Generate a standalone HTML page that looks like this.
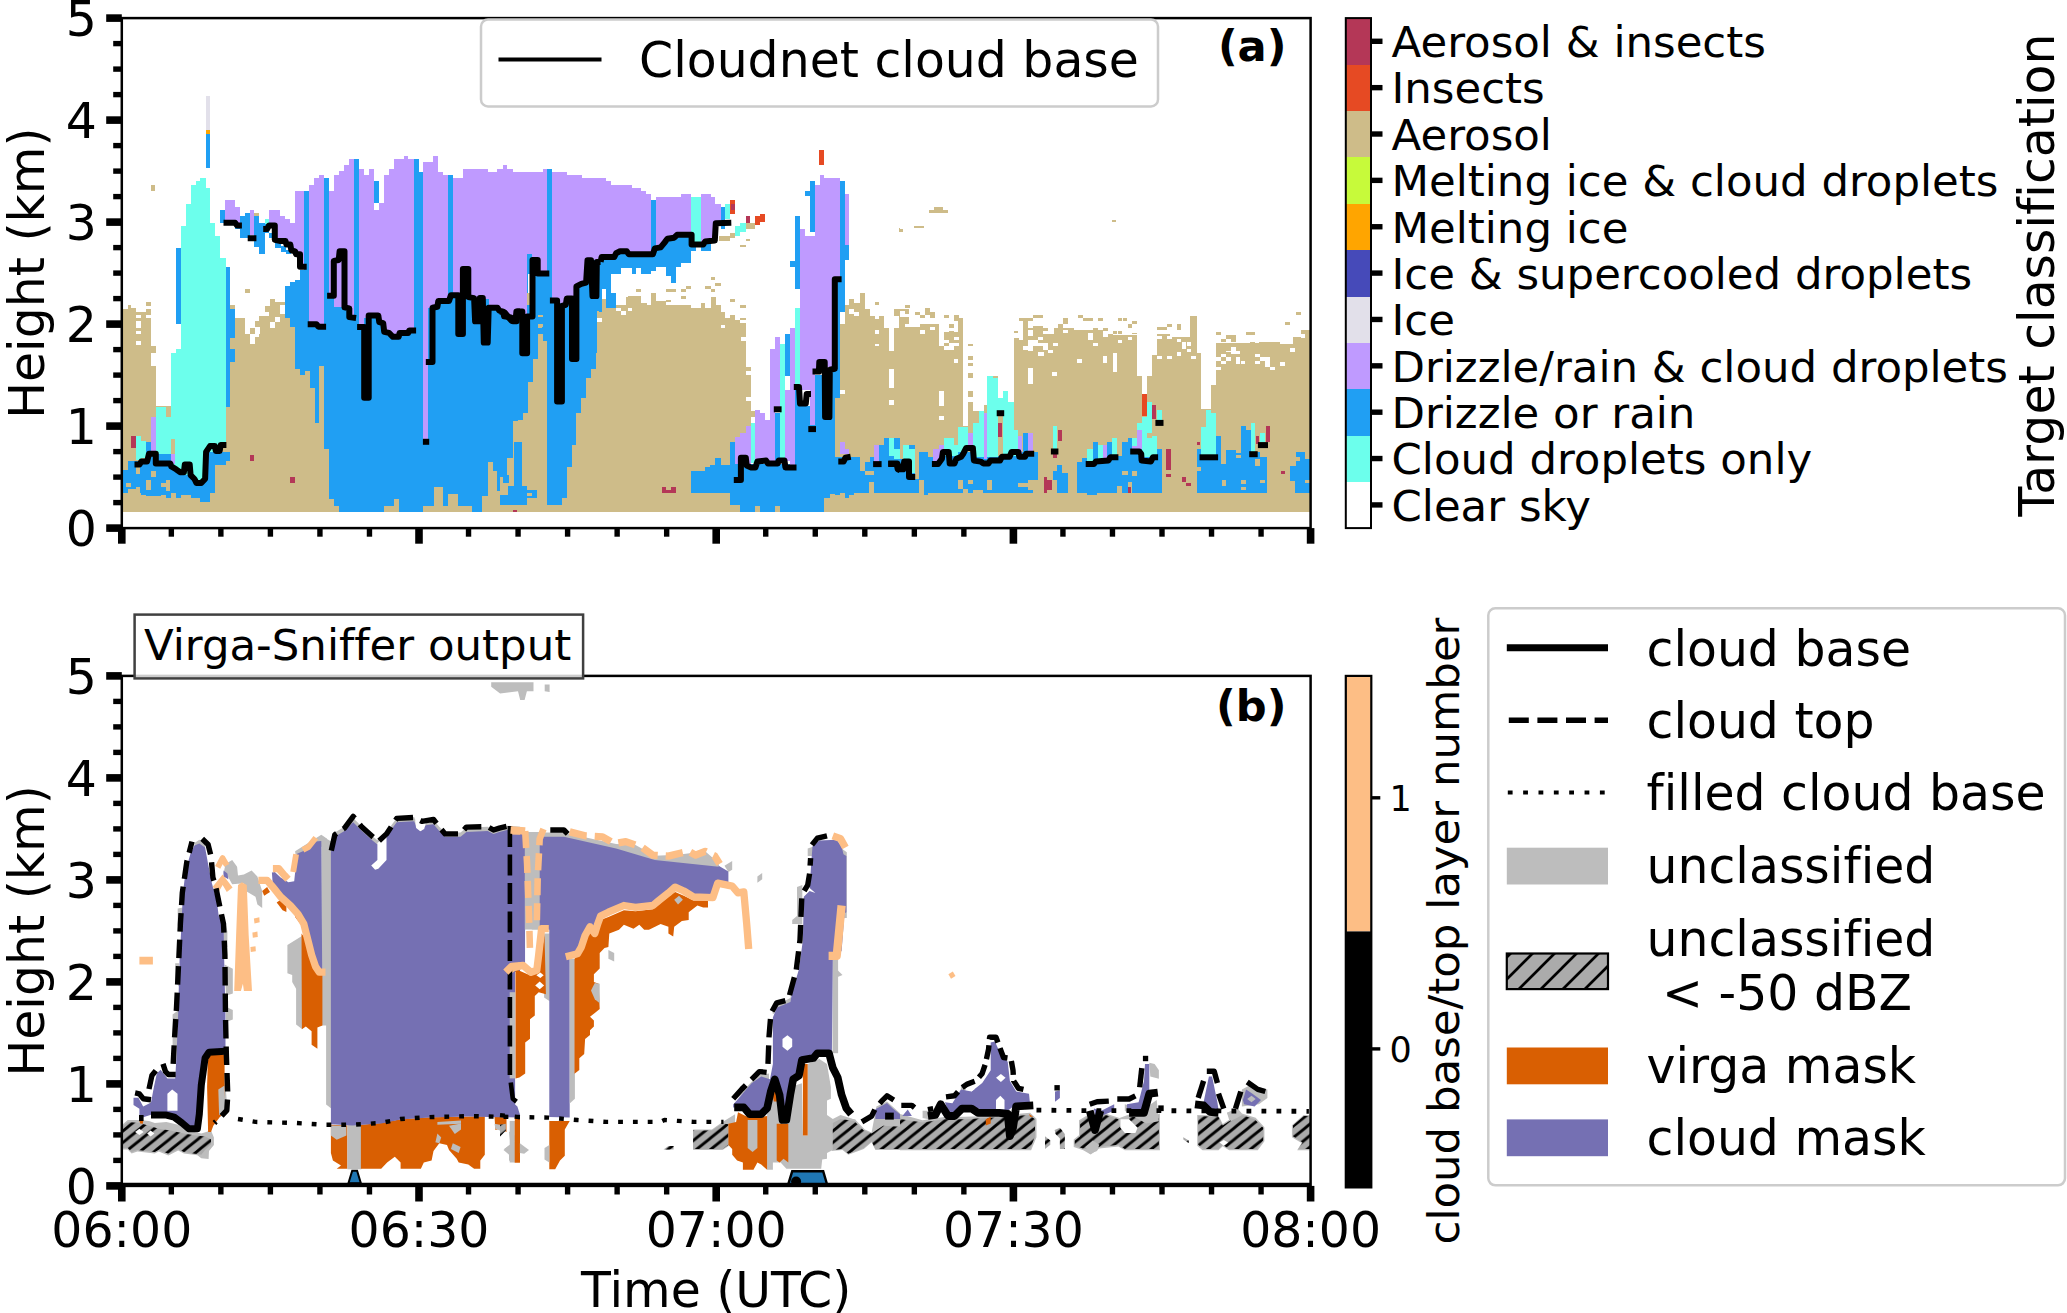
<!DOCTYPE html>
<html><head><meta charset="utf-8"><title>Virga-Sniffer</title>
<style>html,body{margin:0;padding:0;background:#fff}svg text{fill:#000;font-variant-ligatures:none}</style></head>
<body>
<svg width="2067" height="1313" viewBox="0 0 2067 1313" style="display:block">
<rect width="2067" height="1313" fill="#fff"/>
<defs>
<clipPath id="clipA"><rect x="121.8" y="18.100000000000023" width="1188.8" height="510.0"/></clipPath>
<clipPath id="clipB"><rect x="121.8" y="675.9000000000001" width="1188.8" height="510.0"/></clipPath>
<pattern id="hatch" patternUnits="userSpaceOnUse" width="22" height="22"><path d="M-2,24 L24,-2 M-13,13 L13,-13 M9,35 L35,9" stroke="#000" stroke-width="2.7"/></pattern>
<pattern id="hatch2" patternUnits="userSpaceOnUse" width="14.2" height="11.5"><path d="M-1.42,12.65 L15.62,-1.15 M-7.10,5.75 L7.10,-5.75 M7.10,17.25 L21.30,5.75" stroke="#000" stroke-width="2.8"/></pattern>
</defs>
<g clip-path="url(#clipA)" shape-rendering="crispEdges">
<polygon points="121.5,308.7 127.7,308.7 127.7,304.8 130.6,304.8 130.6,307.7 136.4,307.7 136.4,311.6 146.1,311.6 146.1,308.7 151,308.7 151,365.8 155.8,365.8 155.8,511.9 121.5,511.9" fill="#CEBC89" />
<rect x="146.1" y="301.9" width="4.9" height="3.9" fill="#CEBC89" />
<rect x="151" y="346.4" width="4.8" height="6.8" fill="#CEBC89" />
<rect x="230.3" y="304.8" width="4.8" height="3.9" fill="#CEBC89" />
<rect x="244.8" y="289.4" width="4.9" height="3.4" fill="#CEBC89" />
<rect x="270" y="299" width="4.8" height="2.9" fill="#CEBC89" />
<rect x="136.4" y="314.5" width="4.5" height="3.9" fill="#ffffff" />
<rect x="136.4" y="321.3" width="4.5" height="6.8" fill="#ffffff" />
<rect x="136.4" y="331" width="4.5" height="2.9" fill="#ffffff" />
<rect x="136.4" y="340.6" width="4.5" height="3.9" fill="#ffffff" />
<rect x="146.1" y="314.5" width="4.9" height="3.9" fill="#ffffff" />
<polygon points="155.8,405.5 225.5,405.5 225.5,407.4 230.3,407.4 230.3,337.7 235.1,337.7 235.1,318.4 244.8,318.4 244.8,333.9 249.7,333.9 249.7,343.5 254.5,343.5 254.5,336.8 259.3,336.8 259.3,316.4 265.1,316.4 265.1,305.8 270,305.8 270,301.9 284.5,301.9 284.5,318.4 290.3,318.4 290.3,327.1 295.1,327.1 295.1,368.7 304.8,368.7 304.8,368.7 309.6,368.7 309.6,388 314.5,388 314.5,422.9 319.3,422.9 319.3,365.8 324.2,365.8 324.2,449 329,449 329,499.3 333.8,499.3 333.8,506.1 339.6,506.1 339.6,511.9 155.8,511.9" fill="#CEBC89" />
<rect x="244.8" y="321.3" width="4.9" height="4.8" fill="#ffffff" />
<rect x="270" y="322.2" width="4.8" height="5.9" fill="#ffffff" />
<rect x="274.8" y="317.4" width="4.9" height="4.8" fill="#ffffff" />
<rect x="279.7" y="304.8" width="4.8" height="8.7" fill="#ffffff" />
<rect x="255.5" y="327.1" width="4.8" height="6.8" fill="#ffffff" />
<rect x="264.2" y="311.6" width="4.8" height="4.8" fill="#ffffff" />
<rect x="254.5" y="321.3" width="4.8" height="5.8" fill="#CEBC89" />
<rect x="249.7" y="328.1" width="4.8" height="5.8" fill="#CEBC89" />
<rect x="333.8" y="405.5" width="186.2" height="106.4" fill="#CEBC89" />
<polygon points="122.9,470.3 127.7,470.3 127.7,460.6 146.1,460.6 146.1,442.2 151,442.2 151,451.9 225.5,451.9 225.5,451.9 230.3,451.9 230.3,460.6 225.5,460.6 225.5,464.5 214.8,464.5 214.8,492.5 210,492.5 210,502.2 200.3,502.2 200.3,498.4 190.6,498.4 190.6,495.4 181,495.4 181,498.4 176.1,498.4 176.1,492.5 171.3,492.5 171.3,498.4 166.4,498.4 166.4,495.4 160.6,495.4 160.6,496.4 146.1,496.4 146.1,494.5 141.3,494.5 141.3,492.5 136.4,492.5 136.4,488.7 127.7,488.7 127.7,492.5 122.9,492.5" fill="#209FF3" />
<rect x="125.8" y="482.9" width="4.8" height="3.8" fill="#CEBC89" />
<rect x="136.4" y="467.4" width="3.9" height="6.8" fill="#CEBC89" />
<rect x="151" y="471.3" width="4.8" height="5.8" fill="#CEBC89" />
<rect x="146.1" y="480" width="4.9" height="9.6" fill="#CEBC89" />
<rect x="160.6" y="482.9" width="4.9" height="3.8" fill="#CEBC89" />
<rect x="165.5" y="480" width="4.8" height="10.6" fill="#CEBC89" />
<rect x="136.4" y="486.7" width="3.9" height="5.8" fill="#CEBC89" />
<rect x="175.7" y="248" width="5.3" height="75.8" fill="#209FF3" />
<rect x="205.7" y="133.8" width="4.3" height="34.6" fill="#209FF3" />
<rect x="225.5" y="267.1" width="4.8" height="140.3" fill="#209FF3" />
<rect x="230.3" y="308.7" width="4.8" height="29" fill="#209FF3" />
<rect x="230.3" y="349.3" width="4.8" height="12.6" fill="#209FF3" />
<rect x="205.7" y="95.5" width="4.3" height="34.4" fill="#E2E0EA" />
<rect x="205.7" y="129.9" width="4.3" height="3.9" fill="#ffa500" />
<rect x="151" y="184.5" width="4.4" height="6.4" fill="#CEBC89" />
<polygon points="181,226.1 185.8,226.1 185.8,203.9 191,203.9 191,184.5 195.5,184.5 195.5,180.6 200.3,180.6 200.3,178.3 205.7,178.3 205.7,188 210,188 210,223.2 214.8,223.2 214.8,236.4 220,236.4 220,258 225.5,258 225.5,350.9 181,350.9" fill="#6CFFEC" />
<polygon points="155.8,407.4 166.4,407.4 166.4,417.1 171.3,417.1 171.3,353.2 176.1,353.2 176.1,349.3 181,349.3 181,289.4 225.5,289.4 225.5,448 214.8,448 214.8,451.9 206.1,451.9 206.1,479 203.2,479 203.2,482.9 193.5,482.9 193.5,475.1 183.9,475.1 183.9,471.3 176.1,471.3 176.1,465.5 171.3,465.5 171.3,453.8 155.8,453.8" fill="#6CFFEC" />
<rect x="136.4" y="435.5" width="4.9" height="24.1" fill="#6CFFEC" />
<rect x="141.3" y="441.3" width="4.8" height="16.4" fill="#6CFFEC" />
<rect x="131.2" y="435.5" width="4.7" height="12.5" fill="#B43757" />
<rect x="250" y="454.8" width="3.9" height="5.8" fill="#B43757" />
<rect x="290.3" y="477.1" width="4.4" height="5.8" fill="#B43757" />
<rect x="512.8" y="509.6" width="4.9" height="2.3" fill="#B43757" />
<rect x="151" y="417.1" width="4.8" height="33.8" fill="#BF9AFF" />
<rect x="171.3" y="453.8" width="3.9" height="9.7" fill="#BF9AFF" />
<rect x="171.3" y="439.3" width="3.9" height="14.5" fill="#CEBC89" />
<rect x="220" y="209.7" width="5.1" height="13.5" fill="#209FF3" />
<rect x="235.1" y="224.2" width="4.9" height="4.8" fill="#209FF3" />
<rect x="240" y="216.4" width="4.8" height="21.3" fill="#209FF3" />
<rect x="244.8" y="213.1" width="5.2" height="24.6" fill="#209FF3" />
<rect x="254.1" y="216" width="5.2" height="31.4" fill="#209FF3" />
<rect x="259.3" y="223.2" width="5.5" height="31" fill="#209FF3" />
<rect x="264.8" y="224.2" width="4.6" height="8.7" fill="#209FF3" />
<rect x="269.4" y="232.9" width="5.4" height="4.8" fill="#209FF3" />
<rect x="274.8" y="242.6" width="5.8" height="5.8" fill="#209FF3" />
<rect x="280.6" y="246.4" width="5.8" height="5.8" fill="#209FF3" />
<rect x="286.4" y="250.3" width="4.9" height="3.9" fill="#209FF3" />
<rect x="225.1" y="200.4" width="10" height="22.4" fill="#BF9AFF" />
<rect x="235.1" y="206.8" width="4.9" height="17.4" fill="#BF9AFF" />
<rect x="250" y="209.7" width="4.1" height="25.1" fill="#BF9AFF" />
<rect x="254.1" y="213.1" width="5.2" height="2.9" fill="#CEBC89" />
<rect x="264.8" y="219.3" width="4.6" height="4.9" fill="#6CFFEC" />
<polygon points="284.5,286.1 289.7,286.1 289.7,282.2 294.7,282.2 294.7,280.3 300,280.3 300,269.6 304.2,269.6 304.2,191.3 309.1,191.3 309.1,269.6 324.2,269.6 324.2,178.3 329,178.3 329,269.6 354.2,269.6 354.2,159 359.2,159 359.2,269.6 373.5,269.6 373.5,181 378.9,181 378.9,269.6 413.6,269.6 413.6,159 418.6,159 418.6,171.9 422.9,171.9 422.9,269.6 448,269.6 448,174.8 452.8,174.8 452.8,269.6 520,269.6 520,421 512.8,421 512.8,457.7 507,457.7 507,490.6 497.4,490.6 497.4,471.3 492.5,471.3 492.5,461.6 487.7,461.6 487.7,496.4 481.9,496.4 481.9,511.9 472.2,511.9 472.2,506.1 457.7,506.1 457.7,493.5 448,493.5 448,506.1 443.2,506.1 443.2,486.8 433.5,486.8 433.5,506.1 422.9,506.1 422.9,511.9 398.7,511.9 398.7,499.4 393.8,499.4 393.8,506.1 384.2,506.1 384.2,511.9 338.7,511.9 338.7,506.1 333.8,506.1 333.8,499.4 329,499.4 329,449 324.2,449 324.2,365.8 319.3,365.8 319.3,422.9 314.5,422.9 314.5,388.1 309.6,388.1 309.6,368.7 304.8,368.7 304.8,374.5 300,374.5 300,368.7 295.1,368.7 295.1,327.1 290.3,327.1 290.3,318.4 284.5,318.4" fill="#209FF3" />
<rect x="319.3" y="270" width="4.9" height="95.8" fill="#209FF3" />
<rect x="304.8" y="366.8" width="4.8" height="3.8" fill="#209FF3" />
<polygon points="269.4,210 279.7,210 279.7,216.4 284.5,216.4 284.5,219.3 289.7,219.3 289.7,223.2 294.7,223.2 294.7,191.3 304.2,191.3 304.2,266.7 300,266.7 300,254.2 296.1,254.2 296.1,251.3 291.3,251.3 291.3,244.5 286.4,244.5 286.4,240.6 274.8,240.6 274.8,227.1 269.4,227.1" fill="#BF9AFF" />
<polygon points="309.1,184.5 314.1,184.5 314.1,178.3 319.3,178.3 319.3,174.8 324.2,174.8 324.2,324.2 309.1,324.2" fill="#BF9AFF" />
<polygon points="329,191.3 334.2,191.3 334.2,174.8 339.1,174.8 339.1,171 344.1,171 344.1,165.1 349.3,165.1 349.3,159 354.2,159 354.2,318 349.3,318 349.3,308.4 344.5,308.4 344.5,307.4 333.8,307.4 333.8,292.9 329,292.9" fill="#BF9AFF" />
<rect x="373.5" y="203.3" width="5.4" height="6.7" fill="#ffffff" />
<polygon points="359.2,168.6 364.2,168.6 364.2,174.8 369.1,174.8 369.1,168.6 373.5,168.6 373.5,210 378.9,210 378.9,203.3 383.8,203.3 383.8,174.8 389,174.8 389,168.6 393.8,168.6 393.8,159 403.9,159 403.9,155.5 408.3,155.5 408.3,159 413.6,159 413.6,330.6 409.3,330.6 409.3,333.1 399.6,333.1 399.6,337.4 392.9,337.4 392.9,333.5 384.2,333.5 384.2,322.9 379.3,322.9 379.3,318 364.2,318 364.2,328.1 359.2,328.1" fill="#BF9AFF" />
<polygon points="422.9,162.2 432.9,162.2 432.9,155.5 437.8,155.5 437.8,171.9 442.8,171.9 442.8,174.8 448,174.8 448,301 438.3,301 438.3,308.4 428.1,308.4 428.1,440.9 422.9,440.9" fill="#BF9AFF" />
<polygon points="452.8,178.3 462.9,178.3 462.9,168.6 487.7,168.6 487.7,171.9 497.4,171.9 497.4,168.6 502.6,168.6 502.6,165.1 507,165.1 507,168.6 512.8,168.6 512.8,171.9 520,171.9 520,312.2 517.7,312.2 517.7,321.9 512.8,321.9 512.8,317.1 504.1,317.1 504.1,311.3 499.3,311.3 499.3,308.4 488.7,308.4 488.7,298.7 474.1,298.7 474.1,295.8 452.8,295.8" fill="#BF9AFF" />
<polygon points="519.9,171.9 542.6,171.9 542.6,168.6 551.9,168.6 551.9,171.9 566.8,171.9 566.8,174.8 582.2,174.8 582.2,178.3 602.6,178.3 602.6,511.9 519.9,511.9" fill="#209FF3" />
<polygon points="513.5,426.7 518.4,426.7 518.4,420 523.2,420 523.2,413.2 528.1,413.2 528.1,382.2 532.9,382.2 532.9,359 537.7,359 537.7,333.9 542.6,333.9 542.6,340.6 547.4,340.6 547.4,511.9 513.5,511.9" fill="#CEBC89" />
<rect x="537.7" y="314.5" width="4.9" height="2.9" fill="#CEBC89" />
<rect x="537.7" y="324.2" width="4.9" height="2.9" fill="#CEBC89" />
<rect x="500" y="477.1" width="13.5" height="34.8" fill="#CEBC89" />
<rect x="547.4" y="505.1" width="9.7" height="6.8" fill="#CEBC89" />
<rect x="513.5" y="442.2" width="8.8" height="43.6" fill="#209FF3" />
<rect x="507.7" y="485.8" width="19.4" height="19.3" fill="#209FF3" />
<rect x="522.3" y="489.6" width="14.5" height="8.8" fill="#209FF3" />
<rect x="500" y="494.5" width="7.7" height="10.6" fill="#209FF3" />
<rect x="502.9" y="475.1" width="5.8" height="7.8" fill="#209FF3" />
<rect x="507.7" y="457.7" width="4.9" height="13.6" fill="#CEBC89" />
<rect x="527.1" y="492.5" width="4.8" height="3.9" fill="#CEBC89" />
<polygon points="557.1,505.1 561.9,505.1 561.9,498.4 566.8,498.4 566.8,467.4 571.6,467.4 571.6,445.1 576.4,445.1 576.4,413.2 581.3,413.2 581.3,397.7 586.1,397.7 586.1,378.4 591,378.4 591,368.7 595.8,368.7 595.8,353.2 596.8,353.2 596.8,311.2 601.6,311.2 601.6,298.6 606.4,298.6 606.4,308.3 616.1,308.3 616.1,305.4 625.8,305.4 625.8,296.7 641.3,296.7 641.3,302.5 650.9,302.5 650.9,292.8 655.8,292.8 655.8,300.6 666.4,300.6 666.4,299.6 671.3,299.6 671.3,305.4 690.6,305.4 690.6,308.3 701.3,308.3 701.3,302.5 705.1,302.5 705.1,308.3 710.9,308.3 710.9,296.7 715.8,296.7 715.8,305.4 720.6,305.4 720.6,312.2 725.4,312.2 725.4,318 730.3,318 730.3,315.1 735.1,315.1 735.1,319.9 740,319.9 740,318 745.8,318 745.8,366.8 750.6,366.8 750.6,432.6 745.8,432.6 745.8,437.4 740,437.4 740,442.2 735.1,442.2 735.1,511.9 730.3,511.9 730.3,511.9 690.6,511.9 690.6,511.9 557.1,511.9" fill="#CEBC89" />
<rect x="740" y="432.6" width="10.6" height="5.8" fill="#CEBC89" />
<rect x="735.1" y="437.4" width="10.7" height="5.8" fill="#CEBC89" />
<rect x="730.3" y="442.2" width="9.7" height="21.3" fill="#CEBC89" />
<rect x="750.6" y="411.3" width="4.8" height="5.8" fill="#CEBC89" />
<rect x="636.4" y="289" width="4.9" height="2.9" fill="#CEBC89" />
<rect x="666.4" y="289" width="9.7" height="2.9" fill="#CEBC89" />
<rect x="680.9" y="289" width="4.9" height="2.9" fill="#CEBC89" />
<rect x="685.8" y="286.1" width="4.8" height="2.9" fill="#CEBC89" />
<rect x="705.1" y="286.1" width="5.4" height="2.9" fill="#CEBC89" />
<rect x="710.5" y="277" width="4.9" height="2.9" fill="#CEBC89" />
<rect x="715.4" y="282.8" width="5.2" height="2.9" fill="#CEBC89" />
<rect x="710.5" y="289" width="4.9" height="2.9" fill="#CEBC89" />
<rect x="680.9" y="296.4" width="4.9" height="2.9" fill="#CEBC89" />
<rect x="730.3" y="299.3" width="4.8" height="2.3" fill="#CEBC89" />
<rect x="740" y="305.4" width="5.8" height="3" fill="#CEBC89" />
<rect x="627.7" y="296.4" width="13.6" height="2.3" fill="#CEBC89" />
<rect x="620.9" y="311.3" width="4.9" height="3.8" fill="#ffffff" />
<rect x="596.8" y="318" width="4.8" height="3.9" fill="#ffffff" />
<rect x="720.6" y="324.8" width="4.8" height="2.9" fill="#ffffff" />
<rect x="647.1" y="301.6" width="3.8" height="2.9" fill="#ffffff" />
<rect x="666.4" y="301.6" width="4.9" height="2.9" fill="#ffffff" />
<rect x="740" y="320" width="5.8" height="2.9" fill="#ffffff" />
<rect x="606.4" y="304.5" width="4.9" height="3.9" fill="#ffffff" />
<rect x="616.1" y="308.4" width="4.8" height="2.9" fill="#ffffff" />
<rect x="627.7" y="308.4" width="3.9" height="2.9" fill="#ffffff" />
<rect x="745.8" y="370.6" width="4.8" height="3.9" fill="#ffffff" />
<rect x="745.8" y="396.8" width="4.8" height="3.8" fill="#ffffff" />
<rect x="740.9" y="336.8" width="4.9" height="3.8" fill="#ffffff" />
<rect x="730.3" y="482.9" width="105.5" height="29" fill="#CEBC89" />
<polygon points="829.9,438.4 834.8,438.4 834.8,397.7 839.6,397.7 839.6,324.2 844.8,324.2 844.8,305.8 849.3,305.8 849.3,299 854.1,299 854.1,302.9 859.9,302.9 859.9,292.8 864.8,292.8 864.8,308.7 869.6,308.7 869.6,315.5 874.5,315.5 874.5,319.3 879.3,319.3 879.3,315.5 884.1,315.5 884.1,322.2 889,322.2 889,326.1 893.8,326.1 893.8,308.7 900,308.7 900,511.9 829.9,511.9" fill="#CEBC89" />
<rect x="874.5" y="330" width="4.8" height="3.9" fill="#ffffff" />
<rect x="874.5" y="343.5" width="4.8" height="2.9" fill="#ffffff" />
<rect x="889" y="368.7" width="4.8" height="3.9" fill="#ffffff" />
<rect x="889" y="375.5" width="4.8" height="12.5" fill="#ffffff" />
<rect x="889" y="400.6" width="4.8" height="3.9" fill="#ffffff" />
<rect x="839.6" y="390" width="5.2" height="3.9" fill="#ffffff" />
<rect x="884.1" y="322.2" width="4.9" height="5.9" fill="#ffffff" />
<rect x="893.8" y="316.4" width="4.8" height="11.7" fill="#ffffff" />
<rect x="849.3" y="308.7" width="4.8" height="4.8" fill="#ffffff" />
<rect x="854.1" y="311.6" width="4.9" height="3.9" fill="#ffffff" />
<rect x="874.5" y="301.9" width="4.8" height="2.9" fill="#CEBC89" />
<rect x="844.8" y="304.8" width="4.5" height="2.9" fill="#CEBC89" />
<rect x="854.1" y="304.8" width="4.9" height="2.9" fill="#CEBC89" />
<rect x="898.6" y="228.4" width="1.4" height="2.9" fill="#CEBC89" />
<polygon points="598.7,260.9 601.6,260.9 601.6,256.1 616.1,256.1 616.1,251.3 650.9,251.3 650.9,200.4 655.8,200.4 655.8,247.4 664.5,247.4 664.5,241.6 667.4,241.6 667.4,237.7 676.1,237.7 676.1,233.8 690.6,233.8 690.6,242.6 701.3,242.6 701.3,243.5 710.5,243.5 710.5,240.6 715.4,240.6 715.4,224.2 720.6,224.2 720.6,206.8 725.4,206.8 725.4,229 720.6,229 720.6,224.2 715.4,224.2 715.4,241 710.5,241 710.5,251.3 701.3,251.3 701.3,246.4 695.5,246.4 695.5,251.3 690.6,251.3 690.6,262.9 680.9,262.9 680.9,266.7 676.1,266.7 676.1,283.2 671.3,283.2 671.3,276.4 666.4,276.4 666.4,266.7 655.8,266.7 655.8,270.6 650.9,270.6 650.9,273.5 641.3,273.5 641.3,267.7 636.4,267.7 636.4,273.5 631.6,273.5 631.6,267.7 620.9,267.7 620.9,273.5 611.3,273.5 611.3,308.4 606.4,308.4 606.4,289 601.6,289 601.6,311.6 598.7,311.6" fill="#209FF3" />
<rect x="611.3" y="292.9" width="4.8" height="15.5" fill="#209FF3" />
<rect x="547.4" y="168.6" width="4.5" height="124.3" fill="#209FF3" />
<rect x="528.1" y="273.5" width="2.9" height="19.4" fill="#ffffff" />
<rect x="601.6" y="289" width="4.8" height="9.7" fill="#ffffff" />
<rect x="527.1" y="292.9" width="9.7" height="12.5" fill="#CEBC89" />
<rect x="531.9" y="292.9" width="4.9" height="12.5" fill="#209FF3" />
<rect x="537.7" y="314.5" width="4.5" height="2.9" fill="#CEBC89" />
<rect x="537.7" y="324.2" width="4.5" height="3.5" fill="#CEBC89" />
<polygon points="519.9,171.9 542.6,171.9 542.6,168.6 547.4,168.6 547.4,270.6 539.7,270.6 539.7,260 531.9,260 531.9,254.2 527.1,254.2 527.1,315.1 523.2,315.1 523.2,311.3 519.9,311.3" fill="#BF9AFF" />
<polygon points="551.9,171.9 566.8,171.9 566.8,174.8 582.2,174.8 582.2,178.3 596.8,178.3 596.8,260 586.1,260 586.1,281.3 581.3,281.3 581.3,284.2 574.5,284.2 574.5,297.7 566.8,297.7 566.8,302.5 558.1,302.5 558.1,300.6 551.9,300.6" fill="#BF9AFF" />
<polygon points="596.8,178.3 606.4,178.3 606.4,181 611.3,181 611.3,184.5 631.6,184.5 631.6,188 641.3,188 641.3,191.3 646.1,191.3 646.1,194.2 650.9,194.2 650.9,253.2 627.7,253.2 627.7,250.3 620,250.3 620,252.2 616.1,252.2 616.1,256.1 601.6,256.1 601.6,260.9 596.8,260.9" fill="#BF9AFF" />
<polygon points="655.8,197.1 680.9,197.1 680.9,194.2 690.6,194.2 690.6,233.8 676.1,233.8 676.1,237.7 667.4,237.7 667.4,241.6 664.5,241.6 664.5,247.4 655.8,247.4" fill="#BF9AFF" />
<polygon points="701.3,194.2 710.5,194.2 710.5,197.1 715.4,197.1 715.4,203.9 720.6,203.9 720.6,223.2 715.4,223.2 715.4,240.6 705.1,240.6 705.1,243.5 701.3,243.5" fill="#BF9AFF" />
<rect x="690.6" y="197.1" width="10.7" height="44.5" fill="#6CFFEC" />
<rect x="725.4" y="203.9" width="4.9" height="15.4" fill="#6CFFEC" />
<rect x="735.1" y="226.1" width="4.9" height="9.7" fill="#6CFFEC" />
<rect x="740" y="223.2" width="5.8" height="8.7" fill="#6CFFEC" />
<rect x="730.3" y="200.4" width="4.8" height="13.1" fill="#E64A23" />
<rect x="755.4" y="216.4" width="4.9" height="8.7" fill="#E64A23" />
<rect x="760.3" y="213.5" width="4.8" height="8.7" fill="#E64A23" />
<rect x="819.3" y="149.7" width="4.8" height="15.1" fill="#E64A23" />
<rect x="730.9" y="203.9" width="3.6" height="5.8" fill="#B43757" />
<rect x="745.8" y="216.4" width="3.8" height="8.7" fill="#B43757" />
<rect x="718.7" y="236.4" width="11.6" height="4.6" fill="#CEBC89" />
<rect x="730.3" y="232.9" width="4.8" height="4.8" fill="#CEBC89" />
<rect x="745.8" y="223.2" width="9.6" height="5.8" fill="#CEBC89" />
<rect x="745.8" y="238.7" width="3.8" height="2.3" fill="#CEBC89" />
<rect x="740" y="244.5" width="5.8" height="2.9" fill="#CEBC89" />
<rect x="795.1" y="216.4" width="4.9" height="72.6" fill="#209FF3" />
<rect x="789.7" y="260.9" width="5.4" height="5.8" fill="#209FF3" />
<rect x="804.8" y="191.3" width="4.8" height="4.8" fill="#209FF3" />
<rect x="809.6" y="181" width="5.3" height="50.9" fill="#209FF3" />
<rect x="844.8" y="244.5" width="4.5" height="15.5" fill="#209FF3" />
<polygon points="833.8,181 844.8,181 844.8,312.2 839.6,312.2 839.6,397.7 833.8,397.7" fill="#209FF3" />
<polygon points="800,229 804.8,229 804.8,235.8 814.9,235.8 814.9,184.5 819.7,184.5 819.7,174.8 824.1,174.8 824.1,178.3 833.8,178.3 833.8,366.8 819.3,366.8 819.3,371.6 814.5,371.6 814.5,424.8 809.6,424.8 809.6,390 800,390" fill="#BF9AFF" />
<rect x="844.8" y="194.2" width="4.5" height="50.3" fill="#BF9AFF" />
<rect x="833.8" y="178.3" width="5.8" height="101" fill="#BF9AFF" />
<polygon points="690.6,471.3 705.1,471.3 705.1,467.4 710,467.4 710,464.5 714.8,464.5 714.8,457.7 720.6,457.7 720.6,464.5 730.3,464.5 730.3,442.2 735.1,442.2 735.1,463.5 795.1,463.5 795.1,390 800,390 800,405.5 809.6,405.5 809.6,424.8 814.5,424.8 814.5,374.5 829,374.5 829,369.7 829.9,369.7 829.9,456.7 859.9,456.7 859.9,471.3 864.8,471.3 864.8,461.6 869.6,461.6 869.6,456.7 879.3,456.7 879.3,445.1 884.1,445.1 884.1,438.4 900,438.4 900,492.5 854.1,492.5 854.1,494.5 849.3,494.5 849.3,498.4 844.5,498.4 844.5,492.5 839.6,492.5 839.6,495.4 834.8,495.4 834.8,493.5 829.9,493.5 829.9,498.4 824.1,498.4 824.1,511.9 779.6,511.9 779.6,506.1 774.8,506.1 774.8,511.9 760.3,511.9 760.3,506.1 755.4,506.1 755.4,511.9 740,511.9 740,505.1 730.3,505.1 730.3,492.5 690.6,492.5" fill="#209FF3" />
<rect x="774.8" y="413.2" width="4.8" height="50.3" fill="#209FF3" />
<rect x="785.4" y="333.9" width="4.3" height="42.5" fill="#209FF3" />
<rect x="829" y="369.7" width="5.8" height="87" fill="#209FF3" />
<rect x="868.7" y="481.9" width="4.8" height="10.6" fill="#CEBC89" />
<rect x="864.8" y="471.3" width="8.7" height="3.8" fill="#CEBC89" />
<rect x="735.1" y="437.4" width="4.9" height="26.1" fill="#BF9AFF" />
<rect x="740" y="432.6" width="5.8" height="25.1" fill="#BF9AFF" />
<rect x="745.8" y="425.8" width="4.8" height="37.7" fill="#BF9AFF" />
<rect x="755.4" y="410.3" width="4.9" height="51.3" fill="#BF9AFF" />
<rect x="760.3" y="413.2" width="4.8" height="47.4" fill="#BF9AFF" />
<rect x="765.1" y="420" width="4.9" height="40.6" fill="#BF9AFF" />
<rect x="770" y="349.3" width="4.8" height="114.2" fill="#BF9AFF" />
<rect x="774.8" y="336.8" width="4.8" height="72.5" fill="#BF9AFF" />
<rect x="785.4" y="390" width="4.3" height="70.6" fill="#BF9AFF" />
<rect x="789.7" y="327.7" width="5.4" height="136.8" fill="#BF9AFF" />
<rect x="839.6" y="442.2" width="5.2" height="11.6" fill="#BF9AFF" />
<rect x="844.8" y="449" width="4.5" height="4.8" fill="#BF9AFF" />
<rect x="873.5" y="445.1" width="5.8" height="16.5" fill="#BF9AFF" />
<rect x="750.6" y="422.9" width="4.8" height="39.6" fill="#6CFFEC" />
<rect x="779.6" y="343.5" width="5.8" height="117.1" fill="#6CFFEC" />
<rect x="795.1" y="308.3" width="4.9" height="75.9" fill="#6CFFEC" />
<rect x="889" y="438.4" width="4.8" height="20.3" fill="#6CFFEC" />
<rect x="893.8" y="449" width="6.2" height="10.6" fill="#6CFFEC" />
<rect x="750.6" y="417.1" width="4.8" height="5.8" fill="#ffffff" />
<rect x="785.4" y="378.4" width="4.3" height="11.6" fill="#ffffff" />
<rect x="839.6" y="314.1" width="5.2" height="4.3" fill="#ffffff" />
<rect x="661.6" y="486.7" width="14.5" height="6.2" fill="#B43757" />
<rect x="512.6" y="509.6" width="4.8" height="2.3" fill="#B43757" />
<rect x="666" y="486.7" width="5.3" height="2.9" fill="#CEBC89" />
<polygon points="899.9,308.7 909,308.7 909,324.2 939,324.2 939,328.1 943.9,328.1 943.9,331.9 958.4,331.9 958.4,318.4 963.2,318.4 963.2,425.8 968.1,425.8 968.1,401.6 972.9,401.6 972.9,411.3 983.5,411.3 983.5,404.5 987.4,404.5 987.4,375.5 998,375.5 998,397.7 1002.9,397.7 1002.9,390.9 1007.7,390.9 1007.7,401.6 1013.5,401.6 1013.5,337.7 1023.2,337.7 1023.2,318.4 1028,318.4 1028,335.8 1032.9,335.8 1032.9,326.1 1042.6,326.1 1042.6,333.9 1054.2,333.9 1054.2,328.1 1073.5,328.1 1073.5,330 1102.5,330 1102.5,334.8 1137.4,334.8 1137.4,375.5 1142.2,375.5 1142.2,393.9 1147.1,393.9 1147.1,375.5 1151.9,375.5 1151.9,355.1 1156.7,355.1 1156.7,333.9 1170.3,333.9 1170.3,336.8 1189.6,336.8 1189.6,315.5 1197.4,315.5 1197.4,353.2 1201.2,353.2 1201.2,409.3 1210.9,409.3 1210.9,385.1 1215.8,385.1 1215.8,342.6 1259.3,342.6 1259.3,341.6 1280,341.6 1280,511.9 899.9,511.9" fill="#CEBC89" />
<polygon points="1279.3,343.5 1292.9,343.5 1292.9,336.8 1300.6,336.8 1300.6,330 1310.3,330 1310.3,511.9 1279.3,511.9" fill="#CEBC89" />
<rect x="1295.8" y="311.6" width="4.8" height="2.9" fill="#CEBC89" />
<rect x="1285.1" y="322.2" width="4.9" height="3" fill="#CEBC89" />
<rect x="1280.3" y="361.9" width="4.8" height="3.9" fill="#ffffff" />
<rect x="1290" y="348.4" width="4.8" height="3.8" fill="#ffffff" />
<rect x="1300.6" y="333.9" width="4.8" height="3.8" fill="#ffffff" />
<rect x="888.7" y="316.4" width="5.2" height="71.6" fill="#ffffff" />
<rect x="939" y="326.1" width="4.9" height="79.4" fill="#ffffff" />
<rect x="1028" y="339.7" width="4.9" height="44.5" fill="#ffffff" />
<rect x="888.7" y="399.7" width="5.2" height="4.8" fill="#ffffff" />
<rect x="939" y="416.1" width="4.9" height="3.9" fill="#ffffff" />
<rect x="953.5" y="359" width="4.9" height="3.9" fill="#ffffff" />
<rect x="1113.2" y="353.2" width="3.9" height="18.4" fill="#ffffff" />
<rect x="1052.2" y="371.6" width="4.9" height="3.9" fill="#ffffff" />
<rect x="1102.5" y="356.1" width="4.9" height="6.8" fill="#ffffff" />
<rect x="1037.7" y="352.2" width="5.8" height="3.9" fill="#ffffff" />
<rect x="1077.4" y="359" width="4.8" height="3.9" fill="#ffffff" />
<rect x="888.7" y="351.3" width="5.2" height="17.4" fill="#CEBC89" />
<rect x="939" y="345.5" width="4.9" height="45.4" fill="#CEBC89" />
<rect x="1028" y="351.3" width="4.9" height="16.4" fill="#CEBC89" />
<rect x="968.1" y="343.5" width="4.8" height="2.9" fill="#CEBC89" />
<rect x="968.1" y="356.1" width="4.8" height="3.9" fill="#CEBC89" />
<rect x="968.1" y="362.9" width="4.8" height="2.9" fill="#CEBC89" />
<rect x="968.1" y="372.6" width="4.8" height="5.8" fill="#CEBC89" />
<rect x="968.1" y="390.9" width="4.8" height="5.9" fill="#CEBC89" />
<rect x="1137.4" y="375.5" width="4.8" height="10.6" fill="#CEBC89" />
<rect x="929.4" y="209.7" width="18.6" height="2.8" fill="#CEBC89" />
<rect x="934.1" y="207.4" width="9.2" height="2.3" fill="#CEBC89" />
<rect x="914.3" y="225.8" width="9.3" height="2.5" fill="#CEBC89" />
<rect x="899.2" y="228.8" width="4" height="2.8" fill="#CEBC89" />
<rect x="1112.2" y="219.5" width="4.2" height="2.8" fill="#CEBC89" />
<rect x="899.9" y="310.6" width="4.9" height="3.3" fill="#ffffff" />
<rect x="899.9" y="313.9" width="4.9" height="3.3" fill="#ffffff" />
<rect x="904.9" y="305" width="4.8" height="3.3" fill="#CEBC89" />
<rect x="904.9" y="313.9" width="4.8" height="3.3" fill="#ffffff" />
<rect x="904.9" y="305" width="4.8" height="3.3" fill="#CEBC89" />
<rect x="904.9" y="323.8" width="4.8" height="3.3" fill="#ffffff" />
<rect x="909.8" y="313.9" width="4.9" height="3.3" fill="#ffffff" />
<rect x="909.8" y="323.8" width="4.9" height="3.3" fill="#ffffff" />
<rect x="914.8" y="311.6" width="4.8" height="3.3" fill="#CEBC89" />
<rect x="914.8" y="323.8" width="4.8" height="3.3" fill="#ffffff" />
<rect x="919.7" y="330.4" width="4.9" height="3.3" fill="#ffffff" />
<rect x="919.7" y="317.2" width="4.9" height="3.3" fill="#ffffff" />
<rect x="919.7" y="314.9" width="4.9" height="3.3" fill="#CEBC89" />
<rect x="919.7" y="330.4" width="4.9" height="3.3" fill="#ffffff" />
<rect x="924.7" y="308.3" width="4.8" height="3.3" fill="#CEBC89" />
<rect x="924.7" y="311.6" width="4.8" height="3.3" fill="#CEBC89" />
<rect x="929.7" y="320.5" width="4.8" height="3.3" fill="#ffffff" />
<rect x="929.7" y="311.6" width="4.8" height="3.3" fill="#CEBC89" />
<rect x="929.7" y="314.9" width="4.8" height="3.3" fill="#CEBC89" />
<rect x="929.7" y="327.1" width="4.8" height="3.3" fill="#ffffff" />
<rect x="943.9" y="339.9" width="4.8" height="3.2" fill="#ffffff" />
<rect x="943.9" y="314.5" width="4.8" height="3.3" fill="#CEBC89" />
<rect x="943.9" y="346.4" width="4.8" height="3.3" fill="#ffffff" />
<rect x="948.8" y="331" width="4.9" height="3.2" fill="#CEBC89" />
<rect x="948.8" y="346.4" width="4.9" height="3.3" fill="#ffffff" />
<rect x="948.8" y="324.4" width="4.9" height="3.3" fill="#CEBC89" />
<rect x="948.8" y="343.1" width="4.9" height="3.3" fill="#ffffff" />
<rect x="953.8" y="314.5" width="4.8" height="3.3" fill="#CEBC89" />
<rect x="953.8" y="336.6" width="4.8" height="3.3" fill="#ffffff" />
<rect x="953.8" y="317.8" width="4.8" height="3.3" fill="#CEBC89" />
<rect x="953.8" y="317.8" width="4.8" height="3.3" fill="#CEBC89" />
<rect x="953.8" y="343.1" width="4.8" height="3.3" fill="#ffffff" />
<rect x="1013.5" y="331" width="4.9" height="3.2" fill="#CEBC89" />
<rect x="1013.5" y="333.3" width="4.9" height="3.3" fill="#ffffff" />
<rect x="1018.5" y="317.8" width="4.8" height="3.3" fill="#CEBC89" />
<rect x="1018.5" y="333.3" width="4.8" height="3.3" fill="#ffffff" />
<rect x="1018.5" y="336.6" width="4.8" height="3.3" fill="#ffffff" />
<rect x="1018.5" y="317.8" width="4.8" height="3.3" fill="#CEBC89" />
<rect x="1023.4" y="346.4" width="4.9" height="3.3" fill="#ffffff" />
<rect x="1028.4" y="327.7" width="4.8" height="3.3" fill="#CEBC89" />
<rect x="1028.4" y="339.9" width="4.8" height="3.2" fill="#ffffff" />
<rect x="1028.4" y="330" width="4.8" height="3.3" fill="#ffffff" />
<rect x="1028.4" y="317.8" width="4.8" height="3.3" fill="#CEBC89" />
<rect x="1028.4" y="330" width="4.8" height="3.3" fill="#ffffff" />
<rect x="1033.3" y="314.5" width="4.9" height="3.3" fill="#CEBC89" />
<rect x="1033.3" y="343.1" width="4.9" height="3.3" fill="#ffffff" />
<rect x="1033.3" y="343.1" width="4.9" height="3.3" fill="#ffffff" />
<rect x="1033.3" y="334.2" width="4.9" height="3.3" fill="#CEBC89" />
<rect x="1033.3" y="339.9" width="4.9" height="3.2" fill="#ffffff" />
<rect x="1038.3" y="343.1" width="4.8" height="3.3" fill="#ffffff" />
<rect x="1038.3" y="314.5" width="4.8" height="3.3" fill="#CEBC89" />
<rect x="1038.3" y="336.6" width="4.8" height="3.3" fill="#ffffff" />
<rect x="1043.3" y="346.4" width="4.8" height="3.3" fill="#ffffff" />
<rect x="1043.3" y="343.1" width="4.8" height="3.3" fill="#ffffff" />
<rect x="1043.3" y="327.7" width="4.8" height="3.3" fill="#CEBC89" />
<rect x="1048.2" y="334.2" width="4.8" height="3.3" fill="#CEBC89" />
<rect x="1048.2" y="349.7" width="4.8" height="3.3" fill="#ffffff" />
<rect x="1053.2" y="343.1" width="4.8" height="3.3" fill="#ffffff" />
<rect x="1053.2" y="334.2" width="4.8" height="3.3" fill="#CEBC89" />
<rect x="1058.1" y="324.4" width="4.9" height="3.3" fill="#CEBC89" />
<rect x="1063.1" y="321.1" width="4.8" height="3.3" fill="#CEBC89" />
<rect x="1063.1" y="321.1" width="4.8" height="3.3" fill="#CEBC89" />
<rect x="1063.1" y="330" width="4.8" height="3.3" fill="#ffffff" />
<rect x="1063.1" y="317.8" width="4.8" height="3.3" fill="#CEBC89" />
<rect x="1073" y="331" width="4.8" height="3.2" fill="#CEBC89" />
<rect x="1073" y="331" width="4.8" height="3.2" fill="#CEBC89" />
<rect x="1077.9" y="314.5" width="4.9" height="3.3" fill="#CEBC89" />
<rect x="1082.9" y="317.8" width="4.8" height="3.3" fill="#CEBC89" />
<rect x="1082.9" y="331" width="4.8" height="3.2" fill="#CEBC89" />
<rect x="1087.8" y="317.8" width="4.9" height="3.3" fill="#CEBC89" />
<rect x="1087.8" y="333.3" width="4.9" height="3.3" fill="#ffffff" />
<rect x="1087.8" y="336.6" width="4.9" height="3.3" fill="#ffffff" />
<rect x="1092.8" y="327.7" width="4.8" height="3.3" fill="#CEBC89" />
<rect x="1092.8" y="343.1" width="4.8" height="3.3" fill="#ffffff" />
<rect x="1097.7" y="334.2" width="4.9" height="3.3" fill="#CEBC89" />
<rect x="1097.7" y="317.8" width="4.9" height="3.3" fill="#CEBC89" />
<rect x="1102.7" y="327.7" width="4.8" height="3.3" fill="#CEBC89" />
<rect x="1102.7" y="333.3" width="4.8" height="3.3" fill="#ffffff" />
<rect x="1107.7" y="334.2" width="4.8" height="3.3" fill="#CEBC89" />
<rect x="1112.6" y="331" width="4.8" height="3.2" fill="#CEBC89" />
<rect x="1117.6" y="317.8" width="4.8" height="3.3" fill="#CEBC89" />
<rect x="1117.6" y="339.9" width="4.8" height="3.2" fill="#ffffff" />
<rect x="1117.6" y="331" width="4.8" height="3.2" fill="#CEBC89" />
<rect x="1122.5" y="317.8" width="4.9" height="3.3" fill="#CEBC89" />
<rect x="1122.5" y="330" width="4.9" height="3.3" fill="#ffffff" />
<rect x="1127.5" y="324.4" width="4.8" height="3.3" fill="#CEBC89" />
<rect x="1127.5" y="324.4" width="4.8" height="3.3" fill="#CEBC89" />
<rect x="1127.5" y="336.6" width="4.8" height="3.3" fill="#ffffff" />
<rect x="1132.4" y="321.1" width="4.9" height="3.3" fill="#CEBC89" />
<rect x="1132.4" y="331" width="4.9" height="3.2" fill="#CEBC89" />
<rect x="1132.4" y="330" width="4.9" height="3.3" fill="#ffffff" />
<rect x="1156.7" y="340.1" width="4.9" height="3.2" fill="#CEBC89" />
<rect x="1156.7" y="335.8" width="4.9" height="3.3" fill="#ffffff" />
<rect x="1156.7" y="326.9" width="4.9" height="3.3" fill="#CEBC89" />
<rect x="1156.7" y="355.5" width="4.9" height="3.3" fill="#ffffff" />
<rect x="1156.7" y="340.1" width="4.9" height="3.2" fill="#CEBC89" />
<rect x="1161.7" y="326.9" width="4.8" height="3.3" fill="#CEBC89" />
<rect x="1166.6" y="323.6" width="4.9" height="3.3" fill="#CEBC89" />
<rect x="1166.6" y="335.8" width="4.9" height="3.3" fill="#ffffff" />
<rect x="1166.6" y="355.5" width="4.9" height="3.3" fill="#ffffff" />
<rect x="1166.6" y="335.8" width="4.9" height="3.3" fill="#ffffff" />
<rect x="1176.5" y="323.6" width="4.9" height="3.3" fill="#CEBC89" />
<rect x="1176.5" y="339.1" width="4.9" height="3.3" fill="#ffffff" />
<rect x="1176.5" y="326.9" width="4.9" height="3.3" fill="#CEBC89" />
<rect x="1176.5" y="352.2" width="4.9" height="3.3" fill="#ffffff" />
<rect x="1181.5" y="342.4" width="4.8" height="3.3" fill="#ffffff" />
<rect x="1181.5" y="345.7" width="4.8" height="3.3" fill="#ffffff" />
<rect x="1186.5" y="349" width="4.8" height="3.2" fill="#ffffff" />
<rect x="1186.5" y="342.4" width="4.8" height="3.3" fill="#ffffff" />
<rect x="1191.4" y="355.5" width="4.8" height="3.3" fill="#ffffff" />
<rect x="1215.8" y="331.9" width="4.8" height="3.3" fill="#CEBC89" />
<rect x="1215.8" y="367.1" width="4.8" height="3.3" fill="#ffffff" />
<rect x="1215.8" y="348.4" width="4.8" height="3.3" fill="#CEBC89" />
<rect x="1215.8" y="357.3" width="4.8" height="3.3" fill="#ffffff" />
<rect x="1220.7" y="338.5" width="4.8" height="3.3" fill="#CEBC89" />
<rect x="1220.7" y="354" width="4.8" height="3.3" fill="#ffffff" />
<rect x="1220.7" y="360.6" width="4.8" height="3.3" fill="#ffffff" />
<rect x="1220.7" y="354" width="4.8" height="3.3" fill="#ffffff" />
<rect x="1225.7" y="335.2" width="4.8" height="3.3" fill="#CEBC89" />
<rect x="1225.7" y="357.3" width="4.8" height="3.3" fill="#ffffff" />
<rect x="1225.7" y="350.7" width="4.8" height="3.3" fill="#ffffff" />
<rect x="1225.7" y="351.7" width="4.8" height="3.3" fill="#CEBC89" />
<rect x="1230.6" y="335.2" width="4.9" height="3.3" fill="#CEBC89" />
<rect x="1230.6" y="347.4" width="4.9" height="3.3" fill="#ffffff" />
<rect x="1230.6" y="338.5" width="4.9" height="3.3" fill="#CEBC89" />
<rect x="1230.6" y="350.7" width="4.9" height="3.3" fill="#ffffff" />
<rect x="1235.6" y="360.6" width="4.8" height="3.3" fill="#ffffff" />
<rect x="1235.6" y="357.3" width="4.8" height="3.3" fill="#ffffff" />
<rect x="1235.6" y="350.7" width="4.8" height="3.3" fill="#ffffff" />
<rect x="1240.5" y="360.6" width="4.9" height="3.3" fill="#ffffff" />
<rect x="1245.5" y="351.7" width="4.8" height="3.3" fill="#CEBC89" />
<rect x="1245.5" y="331.9" width="4.8" height="3.3" fill="#CEBC89" />
<rect x="1250.4" y="331.9" width="4.9" height="3.3" fill="#CEBC89" />
<rect x="1250.4" y="348.4" width="4.9" height="3.3" fill="#CEBC89" />
<rect x="1250.4" y="341.8" width="4.9" height="3.3" fill="#CEBC89" />
<rect x="1255.4" y="360.6" width="4.8" height="3.3" fill="#ffffff" />
<rect x="1255.4" y="345.1" width="4.8" height="3.3" fill="#CEBC89" />
<rect x="1255.4" y="351.7" width="4.8" height="3.3" fill="#CEBC89" />
<rect x="1255.4" y="354" width="4.8" height="3.3" fill="#ffffff" />
<rect x="1260.3" y="351.7" width="4.9" height="3.3" fill="#CEBC89" />
<rect x="1260.3" y="357.3" width="4.9" height="3.3" fill="#ffffff" />
<rect x="1260.3" y="348.4" width="4.9" height="3.3" fill="#CEBC89" />
<rect x="1265.3" y="348.4" width="4.8" height="3.3" fill="#CEBC89" />
<rect x="1265.3" y="360.6" width="4.8" height="3.3" fill="#ffffff" />
<rect x="1265.3" y="363.9" width="4.8" height="3.2" fill="#ffffff" />
<rect x="1265.3" y="345.1" width="4.8" height="3.3" fill="#CEBC89" />
<rect x="1265.3" y="357.3" width="4.8" height="3.3" fill="#ffffff" />
<rect x="1270.2" y="367.1" width="4.9" height="3.3" fill="#ffffff" />
<polygon points="880,445.1 883.9,445.1 883.9,438.4 893.5,438.4 893.5,449 899.4,449 899.4,458.7 903.2,458.7 903.2,445.1 914.8,445.1 914.8,479 918.7,479 918.7,492.5 880,492.5" fill="#209FF3" />
<polygon points="918.7,451.9 928.4,451.9 928.4,456.7 933.2,456.7 933.2,451.9 1023.2,451.9 1023.2,432.6 1028,432.6 1028,451.9 1037.7,451.9 1037.7,480 1032.9,480 1032.9,492.5 928.4,492.5 928.4,495.4 924.1,495.4 924.1,492.5 918.7,492.5" fill="#209FF3" />
<rect x="918.7" y="480" width="4.8" height="12.5" fill="#CEBC89" />
<rect x="958.4" y="480" width="4.8" height="8.7" fill="#CEBC89" />
<rect x="968.1" y="480" width="4.8" height="3.8" fill="#CEBC89" />
<rect x="987.4" y="480" width="4.8" height="9.6" fill="#CEBC89" />
<rect x="1018.4" y="482.9" width="9.6" height="3.8" fill="#CEBC89" />
<rect x="1028" y="480" width="4.9" height="9.6" fill="#CEBC89" />
<rect x="963.2" y="488.7" width="4.9" height="3.8" fill="#CEBC89" />
<rect x="972.9" y="489.6" width="9.7" height="2.9" fill="#CEBC89" />
<rect x="1057.1" y="464.5" width="4.8" height="28" fill="#209FF3" />
<rect x="1052.8" y="471.3" width="4.3" height="8.7" fill="#209FF3" />
<rect x="1061.9" y="473.2" width="5.8" height="19.3" fill="#209FF3" />
<polygon points="1077.4,461.6 1082.2,461.6 1082.2,457.7 1092.9,457.7 1092.9,442.2 1097.7,442.2 1097.7,455.8 1107.4,455.8 1107.4,442.2 1112.2,442.2 1112.2,455.8 1121.9,455.8 1121.9,442.2 1127.7,442.2 1127.7,438.4 1131.6,438.4 1131.6,449 1161.6,449 1161.6,492.5 1131.6,492.5 1131.6,481.9 1127.7,481.9 1127.7,492.5 1121.9,492.5 1121.9,485.8 1117.1,485.8 1117.1,492.5 1096.7,492.5 1096.7,495.4 1087.1,495.4 1087.1,492.5 1077.4,492.5" fill="#209FF3" />
<rect x="1072.5" y="482.9" width="4.9" height="6.7" fill="#CEBC89" />
<rect x="1121.9" y="471.3" width="5.8" height="3.8" fill="#CEBC89" />
<rect x="1131.6" y="471.3" width="5.8" height="4.8" fill="#CEBC89" />
<polygon points="1197,449 1220.6,449 1220.6,463.5 1226.4,463.5 1226.4,450 1236.1,450 1236.1,452.9 1240.9,452.9 1240.9,426.4 1245.7,426.4 1245.7,429.7 1250.6,429.7 1250.6,451.9 1260.3,451.9 1260.3,456.7 1267,456.7 1267,492.5 1197,492.5" fill="#209FF3" />
<rect x="1215.8" y="435.5" width="4.8" height="20.3" fill="#209FF3" />
<rect x="1221.6" y="480" width="4.8" height="5.8" fill="#CEBC89" />
<rect x="1240.9" y="480" width="4.8" height="3.8" fill="#CEBC89" />
<rect x="1240.9" y="486.7" width="4.8" height="2.9" fill="#CEBC89" />
<rect x="1197.4" y="467.4" width="3.8" height="3.9" fill="#CEBC89" />
<rect x="1260.3" y="480" width="4.8" height="2.9" fill="#CEBC89" />
<rect x="1255.4" y="458.7" width="4.9" height="6.8" fill="#CEBC89" />
<rect x="1236.1" y="454.8" width="4.8" height="2.9" fill="#CEBC89" />
<rect x="1295.8" y="451.9" width="8.7" height="13.6" fill="#209FF3" />
<rect x="1290" y="465.5" width="20.3" height="15.4" fill="#209FF3" />
<rect x="1294.8" y="480.9" width="15.5" height="11.6" fill="#209FF3" />
<rect x="1304.5" y="458.7" width="5.8" height="6.8" fill="#209FF3" />
<rect x="1305.4" y="480" width="4.9" height="2.9" fill="#CEBC89" />
<rect x="1294.8" y="456.7" width="4.8" height="3.9" fill="#CEBC89" />
<rect x="933.2" y="449" width="5.8" height="11.6" fill="#BF9AFF" />
<rect x="939" y="445.1" width="4.9" height="15.5" fill="#BF9AFF" />
<rect x="968.1" y="432.6" width="4.8" height="17.4" fill="#BF9AFF" />
<rect x="983.5" y="413.2" width="3.9" height="45.5" fill="#BF9AFF" />
<rect x="1018.4" y="435.5" width="3.8" height="20.3" fill="#BF9AFF" />
<rect x="1028" y="432.6" width="4.9" height="20.3" fill="#BF9AFF" />
<rect x="1102.5" y="445.1" width="4.9" height="12.6" fill="#BF9AFF" />
<rect x="1131.6" y="445.1" width="10.6" height="3.9" fill="#BF9AFF" />
<rect x="1137.4" y="429.7" width="4.8" height="15.4" fill="#BF9AFF" />
<rect x="888.7" y="438.4" width="4.8" height="17.4" fill="#6CFFEC" />
<rect x="893.5" y="449" width="5.9" height="9.7" fill="#6CFFEC" />
<rect x="903.2" y="445.1" width="5.8" height="15.5" fill="#6CFFEC" />
<rect x="909" y="449" width="5.8" height="24.2" fill="#6CFFEC" />
<rect x="943.9" y="438.4" width="9.6" height="17.4" fill="#6CFFEC" />
<rect x="953.5" y="445.1" width="4.9" height="10.7" fill="#6CFFEC" />
<rect x="958.4" y="426.7" width="9.7" height="25.2" fill="#6CFFEC" />
<rect x="972.9" y="422.9" width="5.8" height="33.8" fill="#6CFFEC" />
<rect x="978.7" y="411.3" width="4.8" height="45.4" fill="#6CFFEC" />
<rect x="987.4" y="375.5" width="5.8" height="81.2" fill="#6CFFEC" />
<rect x="993.2" y="378.4" width="4.8" height="78.3" fill="#6CFFEC" />
<rect x="998" y="397.7" width="4.9" height="13.6" fill="#6CFFEC" />
<rect x="1002.9" y="390.9" width="4.8" height="64.9" fill="#6CFFEC" />
<rect x="1007.7" y="401.6" width="5.8" height="54.2" fill="#6CFFEC" />
<rect x="1013.5" y="429.7" width="4.9" height="26.1" fill="#6CFFEC" />
<rect x="1052.8" y="426.4" width="4.3" height="22.6" fill="#6CFFEC" />
<rect x="1087.1" y="449" width="5.8" height="11.6" fill="#6CFFEC" />
<rect x="1097.7" y="445.1" width="4.8" height="13.6" fill="#6CFFEC" />
<rect x="1112.2" y="438.4" width="4.9" height="16.4" fill="#6CFFEC" />
<rect x="1131.6" y="438.4" width="5.8" height="7.7" fill="#6CFFEC" />
<rect x="1137.4" y="422.9" width="4.8" height="6.8" fill="#6CFFEC" />
<rect x="1142.2" y="417.1" width="4.9" height="39.6" fill="#6CFFEC" />
<rect x="1147.1" y="401.6" width="4.8" height="36.8" fill="#6CFFEC" />
<rect x="1147.1" y="438.4" width="9.6" height="18.3" fill="#6CFFEC" />
<rect x="1151.9" y="435.5" width="4.8" height="21.2" fill="#6CFFEC" />
<rect x="1156.7" y="410.3" width="4.9" height="9.7" fill="#6CFFEC" />
<rect x="1201.2" y="426.7" width="4.9" height="29.1" fill="#6CFFEC" />
<rect x="1206.1" y="410.3" width="4.8" height="45.5" fill="#6CFFEC" />
<rect x="1210.9" y="413.2" width="4.9" height="42.6" fill="#6CFFEC" />
<rect x="1250.6" y="422.9" width="4.8" height="29" fill="#6CFFEC" />
<rect x="1260.3" y="432.6" width="4.8" height="9.6" fill="#6CFFEC" />
<rect x="998" y="417.1" width="4.9" height="38.7" fill="#CEBC89" />
<rect x="1147.1" y="432.6" width="4.8" height="5.8" fill="#CEBC89" />
<rect x="998" y="422.9" width="4.3" height="14.5" fill="#B43757" />
<rect x="1052.8" y="453.8" width="4.3" height="3.9" fill="#B43757" />
<rect x="1057.6" y="429.7" width="4.3" height="11.6" fill="#B43757" />
<rect x="1043.5" y="477.1" width="3.9" height="15.4" fill="#B43757" />
<rect x="1047.4" y="480" width="4.8" height="9.6" fill="#B43757" />
<rect x="1127.7" y="486.7" width="3.5" height="5.8" fill="#B43757" />
<rect x="1166.4" y="449" width="4.5" height="21.3" fill="#B43757" />
<rect x="1166.4" y="474.2" width="4.5" height="2.5" fill="#B43757" />
<rect x="1181.9" y="477.1" width="3.9" height="4.8" fill="#B43757" />
<rect x="1186.3" y="482.9" width="4.3" height="3.5" fill="#B43757" />
<rect x="1151.9" y="404.5" width="3.9" height="14.5" fill="#B43757" />
<rect x="1197" y="442.2" width="3.3" height="2.9" fill="#B43757" />
<rect x="1256.4" y="435.5" width="2.9" height="8.7" fill="#B43757" />
<rect x="1266.1" y="426.4" width="3.5" height="15.8" fill="#B43757" />
<rect x="1281.3" y="471.3" width="3.8" height="2.9" fill="#B43757" />
<rect x="1142.2" y="394.2" width="4.5" height="21.9" fill="#E64A23" />
</g>
<g clip-path="url(#clipA)">
<polyline points="134.5,464.5 139.4,464.5 141.3,461.6 147.1,461.6 149,453.8 155.8,453.8 155.8,463.5 170.3,463.5 171.3,466.4 176.1,469.3 180,472.2 183.9,472.2 184.8,464.5 189.7,464.5 190.6,475.1 194.5,479 196.4,482.9 201.3,482.9 205.1,479 206.1,451.9 210,446.1 214.8,446.1 215.8,450.9 219.7,450.9 220.6,445.1 226.4,445.1" fill="none" stroke="#000" stroke-width="6" stroke-linejoin="round" stroke-linecap="butt"/>
<polyline points="223.5,222.8 235.1,222.8 237.1,225.5 241.9,225.5" fill="none" stroke="#000" stroke-width="6" stroke-linejoin="round" stroke-linecap="butt"/>
<polyline points="247.7,238.3 256.4,238.3" fill="none" stroke="#000" stroke-width="6" stroke-linejoin="round" stroke-linecap="butt"/>
<polyline points="263.2,229 267.1,229 269,225.5 274.8,225.5 274.8,239.7 280.6,241 285.5,241 286.4,244.5 290.3,244.5 291.3,250.3 295.1,251.3 296.1,254.2 300,254.2 300,266.7 306.7,266.7" fill="none" stroke="#000" stroke-width="6" stroke-linejoin="round" stroke-linecap="butt"/>
<polyline points="307.7,324.2 316.4,324.2 318.4,326.7 326.1,326.7" fill="none" stroke="#000" stroke-width="6" stroke-linejoin="round" stroke-linecap="butt"/>
<polyline points="327.1,295.8 333.8,295.8 333.8,260.9 338.7,260 339.6,251.3 344.5,251.3 344.5,307.4 349.3,308.4 349.3,317.1 356.1,318" fill="none" stroke="#000" stroke-width="6" stroke-linejoin="round" stroke-linecap="butt"/>
<polyline points="357.1,327.1 364.2,327.1 364.2,397.7 368.7,397.7 368.7,315.5 378.3,315.5 379.3,322.2 383.2,323.2 384.2,331.9 389,332.9 392.9,336.8 398.7,336.8 399.6,332.9 408.3,332.9 409.3,330.4 416.1,330.4" fill="none" stroke="#000" stroke-width="6" stroke-linejoin="round" stroke-linecap="butt"/>
<polyline points="425.8,361.9 432.5,361.9 432.5,307.7 437.4,306.8 438.3,301 449,301 450.9,295.2 458.3,295.2 458.3,333.9 462.9,333.9 462.9,269 468.3,269 468.3,297.1 474.1,298.1 475.1,321.3 479,321.3 479.9,298.1 482.8,298.1 483.8,342.6 487.7,342.6 488.7,307.7 497.4,307.7 499.3,310.6 503.2,311.6 504.1,316.4 510.9,317.4 512.8,321.3 516.7,321.3 517.7,311.6 520,311.6" fill="none" stroke="#000" stroke-width="6" stroke-linejoin="round" stroke-linecap="butt"/>
<polyline points="422.9,441.8 429.2,441.8" fill="none" stroke="#000" stroke-width="6" stroke-linejoin="round" stroke-linecap="butt"/>
<polyline points="500,311.6 504.8,312.6 508.7,317.4 511.6,320.7 515.5,320.7 516.4,311.6 522.3,311.6 522.3,353.2 527.1,353.2 527.1,316.4 532.5,316.4 532.5,259.9 537.7,259.9 537.7,273.5 549.3,273.5" fill="none" stroke="#000" stroke-width="6" stroke-linejoin="round" stroke-linecap="butt"/>
<polyline points="549.9,300.6 557.1,300.6 557.1,401.6 561.9,401.6 561.9,305.8 565.8,304.8 566.8,298.6 572,298.6 572,359 576.4,359 576.4,286.4 581.3,283.9 586.1,282.6 587.5,260.3 591,260.3 592.5,296.1 596.4,296.1 596.8,261.9 600.6,261.9" fill="none" stroke="#000" stroke-width="6" stroke-linejoin="round" stroke-linecap="butt"/>
<polyline points="600.6,261.9 601.6,257.1 614.2,257.1 616.1,253.2 620,251.3 626.8,251.3 628.7,254.2 652.9,254.2 654.8,248.4 660.6,247.4 664.5,242.6 667.4,238.7 674.2,237.7 677.1,234.8 691.6,234.8 691.6,244.5 703.2,244.5 705.1,241.6 714.8,240.6 715.8,223.2 731.3,222.8" fill="none" stroke="#000" stroke-width="6" stroke-linejoin="round" stroke-linecap="butt"/>
<polyline points="812.5,371.6 818.9,371.6 819.3,361.9 824.7,361.9 825.1,417.1 829.4,417.1 829.8,369.7 834.8,368.7 834.8,279.3 841.6,279.3" fill="none" stroke="#000" stroke-width="6" stroke-linejoin="round" stroke-linecap="butt"/>
<polyline points="793.8,387.1 799,387.1 800,403.5 805.8,403.5 806.7,393.9 811,393.9" fill="none" stroke="#000" stroke-width="6" stroke-linejoin="round" stroke-linecap="butt"/>
<polyline points="773.8,409.3 781.6,409.3" fill="none" stroke="#000" stroke-width="6" stroke-linejoin="round" stroke-linecap="butt"/>
<polyline points="808.3,429.1 816,429.1" fill="none" stroke="#000" stroke-width="6" stroke-linejoin="round" stroke-linecap="butt"/>
<polyline points="733.8,480 740.9,480 740.9,457.7 745.8,457.7 746.7,465.5 750.6,467.4 755.4,467.4 757.4,461.6 766.1,460.6 768,463.5 777.7,463.5 778.7,460.6 784.5,460.6 785.4,467.4 796.5,467.4" fill="none" stroke="#000" stroke-width="6" stroke-linejoin="round" stroke-linecap="butt"/>
<polyline points="838.3,461.6 843.5,461.6 845.4,457.7 850.7,456.7" fill="none" stroke="#000" stroke-width="6" stroke-linejoin="round" stroke-linecap="butt"/>
<polyline points="873.1,464.1 881.6,464.1" fill="none" stroke="#000" stroke-width="6" stroke-linejoin="round" stroke-linecap="butt"/>
<polyline points="888.2,464.1 896.7,464.1 897.7,469.3 900,470.3" fill="none" stroke="#000" stroke-width="6" stroke-linejoin="round" stroke-linecap="butt"/>
<polyline points="888.3,463.5 897.4,463.5 899.4,469.3 903.2,469.3 904.2,461.6 909,461.6 909,477.1 915.2,477.1" fill="none" stroke="#000" stroke-width="6" stroke-linejoin="round" stroke-linecap="butt"/>
<polyline points="931.9,464.1 938.1,464.1 941.9,458.7 942.9,451.9 948.7,451.9 949.7,463.5 954.5,463.5 956.4,458.7 961.3,456.7 963.2,453.8 966.1,448 972.9,448 973.9,460.6 980.6,461.6 983.5,463.5 988.4,463.5 990.3,460.6 1000,460.6 1001.9,456.7 1009.7,456.7 1011.6,451.9 1018.4,451.9 1019.3,456.7 1025.1,456.7 1026.1,453.8 1034.2,453.8" fill="none" stroke="#000" stroke-width="6" stroke-linejoin="round" stroke-linecap="butt"/>
<polyline points="996.7,413.2 1004.2,413.2" fill="none" stroke="#000" stroke-width="6" stroke-linejoin="round" stroke-linecap="butt"/>
<polyline points="1050.9,451.5 1058.4,451.5" fill="none" stroke="#000" stroke-width="6" stroke-linejoin="round" stroke-linecap="butt"/>
<polyline points="1085.7,464.1 1093.8,464.1 1095.8,461.6 1108.4,460.6 1110.3,457.3 1118.4,457.3" fill="none" stroke="#000" stroke-width="6" stroke-linejoin="round" stroke-linecap="butt"/>
<polyline points="1130.2,451.5 1139.3,451.5 1141.2,453.8 1141.6,460.6 1150.9,461.6 1152.9,457.3 1158.1,457.3" fill="none" stroke="#000" stroke-width="6" stroke-linejoin="round" stroke-linecap="butt"/>
<polyline points="1155.4,422.9 1163.5,422.9" fill="none" stroke="#000" stroke-width="6" stroke-linejoin="round" stroke-linecap="butt"/>
<polyline points="1199.5,457.3 1218.1,457.3" fill="none" stroke="#000" stroke-width="6" stroke-linejoin="round" stroke-linecap="butt"/>
<polyline points="1249.2,454.2 1257.7,454.2" fill="none" stroke="#000" stroke-width="6" stroke-linejoin="round" stroke-linecap="butt"/>
<polyline points="1257.9,445.1 1268,445.1" fill="none" stroke="#000" stroke-width="6" stroke-linejoin="round" stroke-linecap="butt"/>
</g>
<rect x="121.8" y="18.100000000000023" width="1188.8" height="510.0" fill="none" stroke="#000" stroke-width="2.5"/>
<line x1="106.2" x2="121.8" y1="528.1" y2="528.1" stroke="#000" stroke-width="7.6"/>
<text x="96.8" y="545.7" text-anchor="end" font-size="48.9" font-family="DejaVu Sans, Liberation Sans, sans-serif">0</text>
<line x1="113.2" x2="121.8" y1="502.6" y2="502.6" stroke="#000" stroke-width="5.4"/>
<line x1="113.2" x2="121.8" y1="477.1" y2="477.1" stroke="#000" stroke-width="5.4"/>
<line x1="113.2" x2="121.8" y1="451.6" y2="451.6" stroke="#000" stroke-width="5.4"/>
<line x1="106.2" x2="121.8" y1="426.1" y2="426.1" stroke="#000" stroke-width="7.6"/>
<text x="96.8" y="443.70000000000005" text-anchor="end" font-size="48.9" font-family="DejaVu Sans, Liberation Sans, sans-serif">1</text>
<line x1="113.2" x2="121.8" y1="400.6" y2="400.6" stroke="#000" stroke-width="5.4"/>
<line x1="113.2" x2="121.8" y1="375.1" y2="375.1" stroke="#000" stroke-width="5.4"/>
<line x1="113.2" x2="121.8" y1="349.6" y2="349.6" stroke="#000" stroke-width="5.4"/>
<line x1="106.2" x2="121.8" y1="324.1" y2="324.1" stroke="#000" stroke-width="7.6"/>
<text x="96.8" y="341.70000000000005" text-anchor="end" font-size="48.9" font-family="DejaVu Sans, Liberation Sans, sans-serif">2</text>
<line x1="113.2" x2="121.8" y1="298.6" y2="298.6" stroke="#000" stroke-width="5.4"/>
<line x1="113.2" x2="121.8" y1="273.1" y2="273.1" stroke="#000" stroke-width="5.4"/>
<line x1="113.2" x2="121.8" y1="247.60000000000002" y2="247.60000000000002" stroke="#000" stroke-width="5.4"/>
<line x1="106.2" x2="121.8" y1="222.10000000000002" y2="222.10000000000002" stroke="#000" stroke-width="7.6"/>
<text x="96.8" y="239.70000000000002" text-anchor="end" font-size="48.9" font-family="DejaVu Sans, Liberation Sans, sans-serif">3</text>
<line x1="113.2" x2="121.8" y1="196.60000000000002" y2="196.60000000000002" stroke="#000" stroke-width="5.4"/>
<line x1="113.2" x2="121.8" y1="171.10000000000002" y2="171.10000000000002" stroke="#000" stroke-width="5.4"/>
<line x1="113.2" x2="121.8" y1="145.60000000000002" y2="145.60000000000002" stroke="#000" stroke-width="5.4"/>
<line x1="106.2" x2="121.8" y1="120.10000000000002" y2="120.10000000000002" stroke="#000" stroke-width="7.6"/>
<text x="96.8" y="137.70000000000002" text-anchor="end" font-size="48.9" font-family="DejaVu Sans, Liberation Sans, sans-serif">4</text>
<line x1="113.2" x2="121.8" y1="94.60000000000002" y2="94.60000000000002" stroke="#000" stroke-width="5.4"/>
<line x1="113.2" x2="121.8" y1="69.10000000000002" y2="69.10000000000002" stroke="#000" stroke-width="5.4"/>
<line x1="113.2" x2="121.8" y1="43.60000000000002" y2="43.60000000000002" stroke="#000" stroke-width="5.4"/>
<line x1="106.2" x2="121.8" y1="18.100000000000023" y2="18.100000000000023" stroke="#000" stroke-width="7.6"/>
<text x="96.8" y="35.700000000000024" text-anchor="end" font-size="48.9" font-family="DejaVu Sans, Liberation Sans, sans-serif">5</text>
<line x1="121.8" x2="121.8" y1="528.1" y2="543.7" stroke="#000" stroke-width="7.6"/>
<line x1="171.33333333333331" x2="171.33333333333331" y1="528.1" y2="536.7" stroke="#000" stroke-width="5.4"/>
<line x1="220.86666666666667" x2="220.86666666666667" y1="528.1" y2="536.7" stroke="#000" stroke-width="5.4"/>
<line x1="270.4" x2="270.4" y1="528.1" y2="536.7" stroke="#000" stroke-width="5.4"/>
<line x1="319.93333333333334" x2="319.93333333333334" y1="528.1" y2="536.7" stroke="#000" stroke-width="5.4"/>
<line x1="369.46666666666664" x2="369.46666666666664" y1="528.1" y2="536.7" stroke="#000" stroke-width="5.4"/>
<line x1="419.0" x2="419.0" y1="528.1" y2="543.7" stroke="#000" stroke-width="7.6"/>
<line x1="468.53333333333336" x2="468.53333333333336" y1="528.1" y2="536.7" stroke="#000" stroke-width="5.4"/>
<line x1="518.0666666666666" x2="518.0666666666666" y1="528.1" y2="536.7" stroke="#000" stroke-width="5.4"/>
<line x1="567.6" x2="567.6" y1="528.1" y2="536.7" stroke="#000" stroke-width="5.4"/>
<line x1="617.1333333333333" x2="617.1333333333333" y1="528.1" y2="536.7" stroke="#000" stroke-width="5.4"/>
<line x1="666.6666666666666" x2="666.6666666666666" y1="528.1" y2="536.7" stroke="#000" stroke-width="5.4"/>
<line x1="716.1999999999999" x2="716.1999999999999" y1="528.1" y2="543.7" stroke="#000" stroke-width="7.6"/>
<line x1="765.7333333333332" x2="765.7333333333332" y1="528.1" y2="536.7" stroke="#000" stroke-width="5.4"/>
<line x1="815.2666666666667" x2="815.2666666666667" y1="528.1" y2="536.7" stroke="#000" stroke-width="5.4"/>
<line x1="864.8" x2="864.8" y1="528.1" y2="536.7" stroke="#000" stroke-width="5.4"/>
<line x1="914.3333333333333" x2="914.3333333333333" y1="528.1" y2="536.7" stroke="#000" stroke-width="5.4"/>
<line x1="963.8666666666667" x2="963.8666666666667" y1="528.1" y2="536.7" stroke="#000" stroke-width="5.4"/>
<line x1="1013.4" x2="1013.4" y1="528.1" y2="543.7" stroke="#000" stroke-width="7.6"/>
<line x1="1062.9333333333334" x2="1062.9333333333334" y1="528.1" y2="536.7" stroke="#000" stroke-width="5.4"/>
<line x1="1112.4666666666667" x2="1112.4666666666667" y1="528.1" y2="536.7" stroke="#000" stroke-width="5.4"/>
<line x1="1162.0" x2="1162.0" y1="528.1" y2="536.7" stroke="#000" stroke-width="5.4"/>
<line x1="1211.5333333333333" x2="1211.5333333333333" y1="528.1" y2="536.7" stroke="#000" stroke-width="5.4"/>
<line x1="1261.0666666666666" x2="1261.0666666666666" y1="528.1" y2="536.7" stroke="#000" stroke-width="5.4"/>
<line x1="1310.6" x2="1310.6" y1="528.1" y2="543.7" stroke="#000" stroke-width="7.6"/>
<text transform="translate(43.8,273.1) rotate(-90)" text-anchor="middle" font-size="48.9" font-family="DejaVu Sans, Liberation Sans, sans-serif">Height (km)</text>
<rect x="481" y="19.5" width="677" height="87" rx="7" ry="7" fill="#fff" fill-opacity="0.8" stroke="#ccc" stroke-width="2.5"/>
<line x1="498.5" x2="601.5" y1="59.5" y2="59.5" stroke="#000" stroke-width="4.2"/>
<text x="639" y="77" font-size="48.9" font-family="DejaVu Sans, Liberation Sans, sans-serif">Cloudnet cloud base</text>
<text x="1286.5" y="61.2" text-anchor="end" font-size="43.2" font-weight="bold" font-family="DejaVu Sans, Liberation Sans, sans-serif">(a)</text>
<rect x="1345.8" y="481.74" width="25.200000000000045" height="46.66" fill="#ffffff" shape-rendering="crispEdges"/>
<rect x="1345.8" y="435.37" width="25.200000000000045" height="46.66" fill="#6CFFEC" shape-rendering="crispEdges"/>
<rect x="1345.8" y="389.01" width="25.200000000000045" height="46.66" fill="#209FF3" shape-rendering="crispEdges"/>
<rect x="1345.8" y="342.65" width="25.200000000000045" height="46.66" fill="#BF9AFF" shape-rendering="crispEdges"/>
<rect x="1345.8" y="296.28" width="25.200000000000045" height="46.66" fill="#E2E0EA" shape-rendering="crispEdges"/>
<rect x="1345.8" y="249.92" width="25.200000000000045" height="46.66" fill="#464AB9" shape-rendering="crispEdges"/>
<rect x="1345.8" y="203.55" width="25.200000000000045" height="46.66" fill="#ffa500" shape-rendering="crispEdges"/>
<rect x="1345.8" y="157.19" width="25.200000000000045" height="46.66" fill="#C7FA3A" shape-rendering="crispEdges"/>
<rect x="1345.8" y="110.83" width="25.200000000000045" height="46.66" fill="#CEBC89" shape-rendering="crispEdges"/>
<rect x="1345.8" y="64.46" width="25.200000000000045" height="46.66" fill="#E64A23" shape-rendering="crispEdges"/>
<rect x="1345.8" y="18.10" width="25.200000000000045" height="46.66" fill="#B43757" shape-rendering="crispEdges"/>
<line x1="1371.0" x2="1382.5" y1="504.92" y2="504.92" stroke="#000" stroke-width="5.4"/>
<text x="1391.5" y="520.72" font-size="43.45" font-family="DejaVu Sans, Liberation Sans, sans-serif">Clear sky</text>
<line x1="1371.0" x2="1382.5" y1="458.55" y2="458.55" stroke="#000" stroke-width="5.4"/>
<text x="1391.5" y="474.35" font-size="43.45" font-family="DejaVu Sans, Liberation Sans, sans-serif">Cloud droplets only</text>
<line x1="1371.0" x2="1382.5" y1="412.19" y2="412.19" stroke="#000" stroke-width="5.4"/>
<text x="1391.5" y="427.99" font-size="43.45" font-family="DejaVu Sans, Liberation Sans, sans-serif">Drizzle or rain</text>
<line x1="1371.0" x2="1382.5" y1="365.83" y2="365.83" stroke="#000" stroke-width="5.4"/>
<text x="1391.5" y="381.63" font-size="43.45" font-family="DejaVu Sans, Liberation Sans, sans-serif">Drizzle/rain &amp; cloud droplets</text>
<line x1="1371.0" x2="1382.5" y1="319.46" y2="319.46" stroke="#000" stroke-width="5.4"/>
<text x="1391.5" y="335.26" font-size="43.45" font-family="DejaVu Sans, Liberation Sans, sans-serif">Ice</text>
<line x1="1371.0" x2="1382.5" y1="273.10" y2="273.10" stroke="#000" stroke-width="5.4"/>
<text x="1391.5" y="288.90" font-size="43.45" font-family="DejaVu Sans, Liberation Sans, sans-serif">Ice &amp; supercooled droplets</text>
<line x1="1371.0" x2="1382.5" y1="226.74" y2="226.74" stroke="#000" stroke-width="5.4"/>
<text x="1391.5" y="242.54" font-size="43.45" font-family="DejaVu Sans, Liberation Sans, sans-serif">Melting ice</text>
<line x1="1371.0" x2="1382.5" y1="180.37" y2="180.37" stroke="#000" stroke-width="5.4"/>
<text x="1391.5" y="196.17" font-size="43.45" font-family="DejaVu Sans, Liberation Sans, sans-serif">Melting ice &amp; cloud droplets</text>
<line x1="1371.0" x2="1382.5" y1="134.01" y2="134.01" stroke="#000" stroke-width="5.4"/>
<text x="1391.5" y="149.81" font-size="43.45" font-family="DejaVu Sans, Liberation Sans, sans-serif">Aerosol</text>
<line x1="1371.0" x2="1382.5" y1="87.65" y2="87.65" stroke="#000" stroke-width="5.4"/>
<text x="1391.5" y="103.45" font-size="43.45" font-family="DejaVu Sans, Liberation Sans, sans-serif">Insects</text>
<line x1="1371.0" x2="1382.5" y1="41.28" y2="41.28" stroke="#000" stroke-width="5.4"/>
<text x="1391.5" y="57.08" font-size="43.45" font-family="DejaVu Sans, Liberation Sans, sans-serif">Aerosol &amp; insects</text>
<rect x="1345.8" y="18.100000000000023" width="25.200000000000045" height="510.0" fill="none" stroke="#000" stroke-width="2"/>
<text transform="translate(2053.5,275.1) rotate(-90)" text-anchor="middle" font-size="48.9" font-family="DejaVu Sans, Liberation Sans, sans-serif">Target classification</text>
<g clip-path="url(#clipB)">
<polygon points="122.3,1124.8 127.7,1120 139.4,1120 149,1120.9 154.8,1122.9 166.4,1121.9 178.1,1124.8 187.7,1130.6 201.3,1133.5 211,1130.6 213.9,1137.4 213.9,1145.1 209,1150.9 208.6,1159.1 201.3,1158.3 197.4,1155.2 183.9,1153.4 178.1,1150.5 168.4,1155.4 158.7,1151.5 154.8,1153.4 137.4,1151.5 131.6,1153.4 127.7,1149.6 122.3,1149.6" fill="#BDBDBD" />
<polygon points="122.3,1126.7 127.7,1121.9 139.4,1122.9 149,1125.8 158.7,1128.7 170.3,1130.6 183.9,1133.5 195.5,1135.5 205.1,1136.4 211,1139.3 211,1144.2 205.1,1150 201.3,1154.8 183.9,1151.9 178.1,1149 168.4,1153.8 158.7,1150 154.8,1151.9 137.4,1150 131.6,1151.9 127.7,1148 122.3,1148" fill="#ABABAB" /><polygon points="122.3,1126.7 127.7,1121.9 139.4,1122.9 149,1125.8 158.7,1128.7 170.3,1130.6 183.9,1133.5 195.5,1135.5 205.1,1136.4 211,1139.3 211,1144.2 205.1,1150 201.3,1154.8 183.9,1151.9 178.1,1149 168.4,1153.8 158.7,1150 154.8,1151.9 137.4,1150 131.6,1151.9 127.7,1148 122.3,1148" fill="url(#hatch2)" />
<polygon points="135.1,1132 139.4,1128.7 143.6,1132 139.4,1135.1" fill="#fff" />
<polygon points="147.1,1133.5 150.6,1130.6 154.4,1133.5 150.6,1136.4" fill="#fff" />
<polygon points="177.7,908.4 182.9,907.4 182.9,925.8 177.7,925.8" fill="#BDBDBD" />
<polygon points="224.5,964.5 232.8,968.7 232.8,993.5 226,995.8" fill="#BDBDBD" />
<polygon points="226,1006.7 232.8,1010 232.8,1019.6 226,1022" fill="#BDBDBD" />
<polygon points="216.8,914.2 224.5,919 227.4,931.6 227.4,947.1 222.6,947.1" fill="#BDBDBD" />
<polygon points="172.6,1014.5 179,1009.7 179,1044.5 172.6,1048.4" fill="#BDBDBD" />
<polygon points="175.2,963.2 179,963.2 179,986.4 175.2,981.6" fill="#BDBDBD" />
<polygon points="217.7,1089 225.5,1084.2 227.4,1110.3 220.6,1117.1 217.7,1114.2" fill="#BDBDBD" />
<polygon points="194.5,843 199.3,839.7 205.1,843 205.1,848.4 194.5,848.4" fill="#BDBDBD" />
<polygon points="208.6,1055.1 224.5,1055.1 224.9,1112.2 220.6,1116.1 213.3,1125.8 211,1132 208.1,1132 207.1,1087.1 207.7,1063.9" fill="#D95F02" />
<polygon points="218.3,1089.4 224.5,1085.5 225.5,1113.2 219.1,1115.1" fill="#BDBDBD" />
<polygon points="133.5,1097.7 138.4,1097.7 143.2,1106.4 151,1102.6 153.9,1087.1 156.8,1073.5 160.6,1069.7 163.5,1073.5 167.4,1078.4 175.2,1078.4 176.5,1056.1 178.1,1015.5 179,978.7 179.6,959.4 181.5,923.9 182.9,892.9 185.8,869.7 190.6,853.2 194.5,845.5 199.3,843.5 205.1,847.4 208.1,863.9 211.9,883.2 216.8,900.6 218.7,916.1 223.5,923.9 224.5,974.2 225.5,1012.9 225.5,1050.7 209,1051.9 205.1,1056.1 201.3,1083.2 199.3,1114.2 197.4,1128.1 189.7,1127.3 181.9,1122.3 174.2,1115.7 166.4,1113.8 151,1114.7 139.4,1118.4 139.4,1108.7 133.5,1104.9" fill="#7570B3" />
<polygon points="172.2,1089.4 177.5,1093.8 177.5,1110.7 167.4,1110.7 167.4,1093.8" fill="#fff" />
<polygon points="225.5,863.9 232.2,860 237.1,866.8 238,875.5 243.9,874.5 251.6,870.6 257.4,876.4 262.2,891 262.2,908 257.4,904.5 255.5,896.8 245.8,891 243.9,883.2 232.2,884.2 228.4,877.4 223.5,873.5" fill="#BDBDBD" />
<polygon points="287.4,945.1 301.9,936 302.3,1029.3 296.1,1024.5 296.1,988.7 292.2,981.9 292.2,975.1 287.4,973.2" fill="#BDBDBD" />
<polygon points="295.1,851.3 321.3,834.8 327.1,838.7 327.1,844.5 300,856.1 296.1,858.1" fill="#BDBDBD" />
<polygon points="321.3,835.8 331.3,841.6 331.3,1108.4 326.1,1104.5 326.1,1025.4 321.3,1025.4" fill="#BDBDBD" />
<polygon points="301.5,933.5 305.8,939.3 311.6,954.8 315.5,966.4 321.3,972.2 322.4,972.2 322.4,1025.4 317.4,1027.4 317.4,1048.7 311.6,1044.8 311.6,1031.3 305.8,1026.4 301.9,1029.3" fill="#D95F02" />
<polygon points="262.2,891 267.1,887.1 270,891.9 264.2,895.8" fill="#D95F02" />
<polygon points="276.7,902.6 280.6,899.7 286.4,906.4 286.4,911.9 282.6,910.3" fill="#D95F02" />
<polygon points="295.7,914.2 300,919 299,921.9 295.1,917.1" fill="#D95F02" />
<polygon points="271.9,872.6 274.8,872 280.6,877.4 288.4,882.2 294.2,881.3 297.1,853.8 305.8,849.9 315.5,841.6 321.3,841 322.2,972.2 319.3,972.2 315.5,966.4 311.6,954.8 307.7,939.3 303.8,923.9 298,914.2 290.3,905.5 280.6,896.8 272.9,887.1" fill="#7570B3" />
<polygon points="223.5,870.6 227.4,873.5 228.4,879.3 223.5,876.4" fill="#7570B3" />
<polygon points="330.9,1124.8 347.4,1125.4 347.4,1168.7 336.7,1168.7 341,1165.4 332.9,1160.6 330.9,1152.9" fill="#D95F02" />
<polygon points="330.9,1135.5 336.7,1139.7 346.4,1135.5 346.4,1125.8 330.9,1125.4" fill="#BDBDBD" />
<polygon points="347.4,1124.8 361.3,1124.8 361.3,1169.3 347.4,1169.3" fill="#BDBDBD" />
<polygon points="360.9,1124.8 381.2,1123.1 400.6,1119.2 429.6,1117.3 484.8,1116.3 484.8,1154.8 480.3,1160.6 480.3,1168.7 474.1,1168.7 468.3,1164.5 458.7,1162.5 456.7,1158.7 449,1150 447,1145.1 439.3,1143.2 433.5,1150.9 431.6,1160.6 423.8,1162.5 420.9,1168.7 400.6,1168.7 400.6,1162.5 394.8,1156.7 387.1,1162.5 381.2,1168.7 360.9,1168.7" fill="#D95F02" />
<polygon points="494.5,1116.5 506.5,1116.5 506.5,1132 499.3,1128.7 495.4,1130" fill="#D95F02" />
<polygon points="514.8,1116.9 520,1116.9 520,1162.5 514.8,1162.5" fill="#D95F02" />
<polygon points="437.4,1133.5 441.2,1137.4 439.3,1143.2 435.4,1142.2" fill="#BDBDBD" />
<polygon points="449,1125.8 461,1123.5 461,1129.6 454.8,1134.1" fill="#BDBDBD" />
<polygon points="452.8,1143.2 460.6,1147.1 458.7,1152.9 450.9,1149" fill="#BDBDBD" />
<polygon points="437.4,1121.9 461,1120.4 461,1123.8 437.4,1124.8" fill="#BDBDBD" />
<polygon points="504.1,1149 514.8,1141.3 514.8,1162.5 509,1160.6 509,1152.9" fill="#BDBDBD" />
<polygon points="494.5,1123.8 505.1,1125.8 502.2,1131.6 495.4,1128.7" fill="#BDBDBD" />
<polygon points="509,1131.6 514.8,1135.5 514.8,1141.3 509.9,1139.3" fill="#BDBDBD" />
<polygon points="330.9,848 334.8,832.5 344.5,826.7 353.2,818 361.9,826.7 371.6,835.4 377.4,840.3 386.1,832.5 396.7,818 414.1,817 417,823.8 420.9,826.7 425.8,820.9 433.5,819.9 439.3,826.7 445.1,832.5 460.6,832.5 466.4,827.7 487.7,826.7 493.5,829.6 499.3,827.7 507,825.7 520,826.7 520,838.7 330.9,858.1" fill="#BDBDBD" />
<polygon points="330.9,852.2 334.8,836.8 344.5,831 353.2,822.3 361.9,831 371.6,839.7 377.4,844.5 386.1,836.8 396.7,822.3 414.1,821.3 417,828.1 420.9,831 425.8,825.2 433.5,824.2 439.3,831 445.1,836.8 460.6,836.8 466.4,831.9 487.7,831 493.5,833.9 499.3,831.9 507,830 520,831 520,1117.6 468.3,1116.5 429.6,1117.6 400.6,1119.6 381.2,1123.5 352.2,1125.4 330.9,1124.2" fill="#7570B3" />
<polygon points="377.4,843 386.5,835.8 386.5,860 378.3,868.7 375.1,869.7 371.2,865.4 377.4,860" fill="#fff" />
<polygon points="415.1,820.3 425.8,823.2 424.2,829 420.3,831.3 416.1,828.1" fill="#fff" />
<polygon points="515.1,971.9 520.1,971.9 520.1,1115.1 517.4,1106.4 515.1,1104.5" fill="#fff" />
<polygon points="519.9,831 525.2,831.9 525.2,968.4 519.9,968.4" fill="#7570B3" />
<polygon points="524.8,831.9 540.3,831.9 540.3,929.7 524.8,929.7" fill="#BDBDBD" />
<polygon points="544.1,933.5 549.7,933.5 549.7,1001.3 544.1,997.4" fill="#BDBDBD" />
<polygon points="525.2,929.7 531.9,929.7 531.9,964.5 525.2,964.5" fill="#fff" />
<polygon points="515.5,969 531,975.8 538.7,971.9 544.5,934.2 545.9,994.2 538.7,992.2 534.8,996.1 534.8,1015.5 530,1019.3 530,1038.7 525.2,1042.6 525.2,1073.5 519.4,1077.4 515.5,1078.4" fill="#D95F02" />
<polygon points="536.4,975.2 540.3,972.5 543.7,975.2 540.3,977.9" fill="#fff" />
<polygon points="535.2,985.5 539.7,981.6 544.1,985.5 539.7,989.3" fill="#fff" />
<polygon points="509.7,992.2 515.1,992.2 515.1,1078.4 509.7,1078.4" fill="#BDBDBD" />
<polygon points="509.7,1120.9 514.7,1120.9 514.7,1162.5 509.7,1162.5" fill="#BDBDBD" />
<polygon points="514.7,1120.9 519.9,1120.9 519.9,1162.5 514.7,1162.5" fill="#D95F02" />
<polygon points="503.5,1150 509.7,1144.7 509.7,1155.2" fill="#BDBDBD" />
<polygon points="519.9,1143.2 529,1150 524.2,1153.8 519.9,1152.9" fill="#BDBDBD" />
<polygon points="500,1124.8 505.8,1123.8 505.8,1130.6 500,1136.4" fill="#ABABAB" /><polygon points="500,1124.8 505.8,1123.8 505.8,1130.6 500,1136.4" fill="url(#hatch2)" />
<polygon points="539.7,835.8 563.9,835.8 581.3,839.7 616.1,847.4 635.5,848.4 654.8,859 678,858.1 685.8,856.1 697.4,857.1 705.1,854.2 712.9,858.1 718.7,865.8 728.4,871.6 728.4,883.2 717.7,883.2 712.9,896.8 693.5,896.8 683.8,891 675.1,887.1 668.4,892.9 658.7,900.6 652.9,905.5 635.5,907.4 623.9,906.4 608.4,913.2 600.6,916.1 594.8,931.6 591,927.7 585.1,935.5 581.3,949 577.4,952.9 569.7,954.8 569.7,1117.6 549.3,1117.1 549.3,929.7 539.7,927.7" fill="#7570B3" />
<polygon points="539.7,832.5 563.9,832.5 581.3,836.4 616.1,844.1 635.5,845.1 654.8,855.7 678,854.8 705.1,851.3 718.7,862.9 718.7,866.8 654.8,860 616.1,848.4 563.9,836.8 539.7,836.8" fill="#BDBDBD" />
<polygon points="569.7,958.7 574.9,958.7 574.9,1098.7 569.7,1103.5" fill="#BDBDBD" />
<polygon points="574.5,958.7 581.3,952.9 585.1,939.3 591,931.6 594.8,935.5 600.6,920 608.4,917.1 623.9,910.3 635.5,911.3 652.9,909.3 658.7,904.5 668.4,896.8 675.1,891.9 683.8,895.8 693.5,900.6 708,900.6 708,907.4 703.2,907.4 697.4,905.5 688.7,912.2 688.7,920 681.9,920.9 674.2,926.8 673.2,936.4 668.4,933.5 668.4,926.8 660.6,923.9 649,929.7 644.2,929.7 639.3,924.8 633.5,928.7 623.9,924.8 619,929.7 609.3,933.5 608.4,947.1 604.5,948 599.7,952.9 599.7,968.4 593.9,974.2 593.9,981.9 598.7,983.8 599.7,1009 594.8,1012.9 590,1016.7 593.9,1020.6 593.9,1026.4 590,1030.3 590,1035.1 585.1,1039 584.2,1054.1 579.3,1058.3 579.3,1070 574.5,1073.8" fill="#D95F02" />
<polygon points="608.4,950 614.2,952.9 614.2,961.6 608.4,958.7" fill="#BDBDBD" />
<polygon points="591,990.6 594.8,982.9 599.7,983.8 599.7,1003.2 594.8,999.3" fill="#BDBDBD" />
<polygon points="674.2,899.7 679,895.8 682.9,899.7 678,904.5" fill="#BDBDBD" />
<polygon points="724.5,865.8 732.2,861 732.2,869.7 728.4,872" fill="#BDBDBD" />
<polygon points="757.4,876.4 762.2,873.1 762.2,879.3 757.4,882.8" fill="#BDBDBD" />
<polygon points="549.3,1120.9 569.7,1120.9 564.8,1129.6 564.8,1155.8 560,1160.6 555.2,1169.3 549.3,1169.3" fill="#D95F02" />
<polygon points="544.5,1148 549.3,1145.1 549.3,1162.5 544.5,1159.6" fill="#BDBDBD" />
<polygon points="693.1,1129.6 711.9,1129.6 722.5,1121.9 735.1,1114.2 735.1,1123.8 728.7,1124.8 728.7,1146.1 722.5,1150 693.1,1150" fill="#BDBDBD" />
<polygon points="693.1,1130.6 711.9,1130.6 722.5,1123.5 728.4,1124.2 728.4,1145.1 722.5,1149 693.1,1149" fill="#ABABAB" /><polygon points="693.1,1130.6 711.9,1130.6 722.5,1123.5 728.4,1124.2 728.4,1145.1 722.5,1149 693.1,1149" fill="url(#hatch2)" />
<polygon points="663.5,1149.4 668.4,1146.1 673.6,1146.1 673.6,1149.4" fill="#ABABAB" /><polygon points="663.5,1149.4 668.4,1146.1 673.6,1146.1 673.6,1149.4" fill="url(#hatch2)" />
<polygon points="790.3,1087.1 801.9,1083.2 802.9,1135.5 807.7,1135.5 807.7,1063.9 819.3,1059 827,1063.9 830.9,1087.1 830.9,1098.7 827,1100.6 827,1115.1 832.8,1119 840.6,1115.1 856.1,1120 832.8,1133.5 832.8,1150 827,1152.9 827,1158.7 822.2,1159.6 821.2,1168.7 786.4,1168.7 780.6,1162.5 772.9,1162.5 772.9,1169.7 767.1,1169.7 767.1,1114.2 770.9,1106.4 774.8,1087.1 779.6,1100.6 782.5,1123.8 788.3,1123.8" fill="#BDBDBD" />
<polygon points="797,887.1 802.3,885.1 802.3,923.9 792.2,923.9 792.2,920 797,916.1" fill="#BDBDBD" />
<polygon points="807.7,848.4 813.5,846.4 813.5,856.1 807.7,856.1" fill="#BDBDBD" />
<polygon points="832.5,958.7 838.1,958.7 838.1,1053.2 832.5,1053.2" fill="#BDBDBD" />
<polygon points="837.7,970.3 842.5,975.1 837.7,977.1" fill="#BDBDBD" />
<polygon points="841.6,848.4 846.8,852.2 846.8,918 841.6,918" fill="#BDBDBD" />
<polygon points="771.9,1007.7 778.7,1003.9 790.3,998.1 792.2,990.3 790.3,1003.9 776.7,1009.7 772.9,1014.5" fill="#BDBDBD" />
<polygon points="734.2,1100.6 757.4,1075.5 769,1073.5 769,1079.3 741.9,1094.8" fill="#BDBDBD" />
<polygon points="728.4,1123.8 736.1,1121.9 738,1112.2 749.6,1118 767.1,1116.1 767.1,1169.7 761.2,1164.5 757.4,1162.5 753.5,1169.7 742.9,1169.7 742.9,1162.5 737.1,1160.6 732.2,1154.8 732.2,1149 728.4,1145.1" fill="#D95F02" />
<polygon points="747.7,1120 757.4,1120 757.4,1148 752.5,1151.9 747.7,1148" fill="#BDBDBD" />
<polygon points="776.7,1123.8 788.3,1123.8 788.3,1162.5 783.5,1158.7 779.6,1162.5 776.7,1160.6" fill="#D95F02" />
<polygon points="802.9,1063.9 807.7,1063.9 807.7,1135.5 802.9,1135.5" fill="#D95F02" />
<polygon points="772.5,1093.8 775.8,1087.1 777.1,1101.6 773.8,1101.6" fill="#D95F02" />
<polygon points="733.2,1104.5 740,1096.7 751.6,1083.2 761.2,1076.4 770,1079.3 772.9,1063.9 772.9,1017.4 776.7,1007.7 790.3,1001.9 792.2,992.2 799,969 802.9,940 803.8,896.8 809.6,891 815.4,892.9 809.6,888.1 811.6,858.1 812.5,846.4 819.3,840.6 836.7,839.7 841.6,846.4 843.5,854.2 846.4,856.1 846.4,912.2 844.5,913.2 841.6,950.9 832.8,958.7 831.9,1052.2 829,1054.2 817.4,1054.2 813.5,1059 801.9,1060.9 799,1075.5 793.2,1080.3 790.3,1094.8 786.4,1120.9 782.5,1120.9 779.6,1094.8 774.8,1080.3 770.9,1090.9 767.1,1108.4 761.2,1114.2 749.6,1114.2 743.8,1107.4 733.2,1107.4" fill="#7570B3" />
<polygon points="787.4,1035.2 792.2,1039.1 792.2,1046.8 787.4,1050.7 782.5,1046.8 782.5,1039.1" fill="#fff" />
<polygon points="831.9,1121.9 840.6,1117.1 855.1,1119.6 864.8,1129.6 871.6,1132.5 876.4,1106.4 887,1101.6 900,1113.2 900,1150 875.4,1150 871.6,1142.2 863.8,1149 848.3,1154.8 842.5,1150 831.9,1150.9" fill="#BDBDBD" />
<polygon points="832.8,1122.9 840.6,1119 854.1,1120.9 863.8,1130.6 871.6,1133.5 877.4,1129.6 883.2,1125.8 900,1126.7 900,1149 875.4,1149 871.6,1141.3 863.8,1148 848.3,1153.8 842.5,1149 832.8,1150" fill="#ABABAB" /><polygon points="832.8,1122.9 840.6,1119 854.1,1120.9 863.8,1130.6 871.6,1133.5 877.4,1129.6 883.2,1125.8 900,1126.7 900,1149 875.4,1149 871.6,1141.3 863.8,1148 848.3,1153.8 842.5,1149 832.8,1150" fill="url(#hatch2)" />
<polygon points="875.4,1109.3 887,1103.1 892.8,1108.4 900,1114.2 900,1119 875.4,1119" fill="#7570B3" />
<polygon points="900,1113.9 922.6,1120.3 943.9,1117.1 965.1,1116.7 986.4,1116 1016.2,1113.9 1030.1,1112.8 1036.5,1118.8 1036.5,1137.3 1031.1,1150.3 900,1150.3" fill="#BDBDBD" />
<polygon points="900,1117.1 901.3,1119.2 922.6,1122.4 943.9,1119.2 965.1,1119.2 986.4,1118.1 1003.5,1117.1 1016.2,1116 1029,1114.9 1035,1119.2 1035,1136.2 1030.1,1149 900,1149" fill="#ABABAB" /><polygon points="900,1117.1 901.3,1119.2 922.6,1122.4 943.9,1119.2 965.1,1119.2 986.4,1118.1 1003.5,1117.1 1016.2,1116 1029,1114.9 1035,1119.2 1035,1136.2 1030.1,1149 900,1149" fill="url(#hatch2)" />
<polygon points="1045,1136.2 1050.3,1140.5 1050.3,1144.8 1045,1149" fill="#ABABAB" /><polygon points="1045,1136.2 1050.3,1140.5 1050.3,1144.8 1045,1149" fill="url(#hatch2)" />
<polygon points="1054.6,1129.9 1059.9,1127.7 1064.8,1134.1 1064.8,1149 1059.9,1149 1059.9,1138.4 1055.6,1134.1" fill="#ABABAB" /><polygon points="1054.6,1129.9 1059.9,1127.7 1064.8,1134.1 1064.8,1149 1059.9,1149 1059.9,1138.4 1055.6,1134.1" fill="url(#hatch2)" />
<polygon points="1079,1120.3 1088.6,1114.5 1105.6,1113.5 1119.5,1118.1 1129.1,1114.5 1146.1,1117.7 1159.9,1113.5 1159.9,1150.3 1124.8,1150.3 1118.4,1146.5 1099.3,1148.6 1090.7,1154.5 1083.3,1150.3 1073.7,1146.9 1073.7,1139.4 1079,1135.2" fill="#BDBDBD" />
<polygon points="1080.1,1121.3 1088.6,1116 1105.6,1114.9 1118.4,1119.2 1120.5,1127.7 1129.1,1133 1137.6,1127.7 1129.1,1123.5 1129.1,1116 1146.1,1119.2 1158.9,1114.9 1158.9,1149 1124.8,1149 1118.4,1144.8 1099.3,1146.9 1092.9,1149 1084.4,1149 1074.8,1145.8 1074.8,1140.5 1080.1,1136.2" fill="#ABABAB" /><polygon points="1080.1,1121.3 1088.6,1116 1105.6,1114.9 1118.4,1119.2 1120.5,1127.7 1129.1,1133 1137.6,1127.7 1129.1,1123.5 1129.1,1116 1146.1,1119.2 1158.9,1114.9 1158.9,1149 1124.8,1149 1118.4,1144.8 1099.3,1146.9 1092.9,1149 1084.4,1149 1074.8,1145.8 1074.8,1140.5 1080.1,1136.2" fill="url(#hatch2)" />
<polygon points="1120.5,1119.2 1129.1,1119.2 1137.6,1127.7 1135.4,1133 1124.8,1133 1120.5,1127.7" fill="#fff" />
<polygon points="1085.4,1146.9 1092.9,1140.5 1099.3,1144.8 1097.1,1151.1 1089.7,1153.7" fill="#BDBDBD" />
<polygon points="1197.2,1114.9 1218.5,1115.6 1222.7,1124.1 1229.1,1119.8 1227,1112.8 1237.6,1108.6 1241.9,1113.5 1255.7,1117.7 1264.4,1127.3 1264.4,1141.3 1257.8,1150.3 1229.1,1150.3 1222.7,1146.2 1218.5,1150.3 1202.5,1150.3 1197.2,1145.8" fill="#BDBDBD" />
<polygon points="1198.2,1116 1218.5,1117.1 1222.7,1125.6 1229.1,1121.3 1241.9,1114.9 1254.6,1119.2 1263.2,1127.7 1263.2,1140.5 1256.8,1149 1229.1,1149 1222.7,1144.8 1218.5,1149 1203.6,1149 1198.2,1144.8" fill="#ABABAB" /><polygon points="1198.2,1116 1218.5,1117.1 1222.7,1125.6 1229.1,1121.3 1241.9,1114.9 1254.6,1119.2 1263.2,1127.7 1263.2,1140.5 1256.8,1149 1229.1,1149 1222.7,1144.8 1218.5,1149 1203.6,1149 1198.2,1144.8" fill="url(#hatch2)" />
<polygon points="1219.5,1142.6 1223.8,1140.1 1228,1142.6 1223.8,1145.8" fill="#fff" />
<polygon points="1227,1112.8 1237.6,1108.6 1241.9,1114.9 1231.2,1121.3" fill="#BDBDBD" />
<polygon points="1291.9,1125.2 1303.6,1114.9 1311.1,1114.9 1311.1,1150.3 1297.2,1150.3 1301.5,1143 1291.9,1137.3" fill="#BDBDBD" />
<polygon points="1293,1125.6 1303.6,1116 1311.1,1116 1311.1,1149 1298.3,1149 1302.5,1142.6 1293,1136.2" fill="#ABABAB" /><polygon points="1293,1125.6 1303.6,1116 1311.1,1116 1311.1,1149 1298.3,1149 1302.5,1142.6 1293,1136.2" fill="url(#hatch2)" />
<polygon points="1183.3,1137.3 1188.7,1140.5 1188.7,1143 1183.3,1139.4" fill="#ABABAB" /><polygon points="1183.3,1137.3 1188.7,1140.5 1188.7,1143 1183.3,1139.4" fill="url(#hatch2)" />
<polygon points="1149.3,1062.8 1154.6,1063.9 1158.9,1070.2 1158.9,1078.8 1150.3,1076.6" fill="#BDBDBD" />
<polygon points="1124.8,1104.3 1131.2,1106.4 1141.8,1110.7 1156.7,1100 1158.9,1121.3 1146.1,1123.5 1131.2,1114.9 1124.8,1110.7" fill="#BDBDBD" />
<polygon points="1241.9,1089.4 1250.4,1085.1 1267.4,1089.4 1267.4,1097.9 1258.9,1104.3 1241.9,1106.4" fill="#BDBDBD" />
<polygon points="922.6,1110.7 929,1110.7 929,1119.2 922.6,1118.1" fill="#BDBDBD" />
<polygon points="960.9,1085.1 967.3,1084.1 965.1,1091.5 960.9,1091.5" fill="#BDBDBD" />
<polygon points="902.4,1116 907.7,1109.6 911.9,1116" fill="#7570B3" />
<polygon points="944.9,1102.2 952.4,1103.2 960.9,1089.4 971.5,1091.5 982.2,1083 990.7,1070.2 990.7,1042.6 994.9,1041.5 999.2,1051.1 1003.5,1057.5 1007.7,1061.7 1009.9,1080.9 1016.2,1091.5 1029,1093.7 1030.1,1104.3 1016.2,1104.3 1007.7,1110.7 986.4,1110.7 973.7,1107.5 965.1,1106.4 954.5,1114.9 950.2,1116" fill="#7570B3" />
<polygon points="996,1077.7 1000.9,1074.1 1005.6,1077.7 1000.9,1082" fill="#fff" />
<polygon points="996,1100 1000.3,1095.8 1004.5,1100 1004.5,1109.6 996,1109.6" fill="#fff" />
<polygon points="968.3,1088.3 971.5,1086.2 974.7,1089 971.5,1091.5" fill="#fff" />
<polygon points="1055,1091.5 1059.9,1090.5 1059.9,1097.9 1055,1101.8" fill="#7570B3" />
<polygon points="1093.9,1108.6 1101.4,1110.7 1114.2,1104.3 1114.2,1110.7 1103.5,1114.9 1095,1114.9" fill="#7570B3" />
<polygon points="1126.9,1104.3 1138.6,1102.2 1144,1080.9 1145,1063.9 1149.3,1063.9 1149.3,1089.4 1146.1,1093.7 1142.9,1109.6 1126.9,1109.6" fill="#7570B3" />
<polygon points="1203.6,1102.2 1208.9,1076.6 1212.1,1076.6 1217.4,1102.2 1218.5,1109.6 1207.8,1109.6 1199.3,1104.3" fill="#7570B3" />
<polygon points="1242.9,1100 1246.1,1089.4 1252.5,1093.7 1261,1100 1254.6,1106.4 1244,1104.3" fill="#7570B3" />
<polygon points="1247.2,1099 1251.5,1095.8 1255.7,1099 1251.5,1102.2" fill="#BDBDBD" />
<polygon points="985.8,1119.2 990.7,1116.7 990.7,1123.5 985.8,1125.6" fill="#D95F02" />
<polygon points="1029,1113.9 1033.3,1116.7 1030.1,1116.7" fill="#D95F02" />
<polygon points="139.4,956.7 152.9,956.7 152.9,964.5 139.4,964.5" fill="#FDBE85" />
<polyline points="217.7,867.3 222.6,858.1 226.8,865.4" fill="none" stroke="#FDBE85" stroke-width="5.84" stroke-linejoin="round" stroke-linecap="butt" />
<polygon points="212.5,887.1 222.6,874.5 232.6,887.5 226.8,891.9 222.6,885.1 219.1,891.3" fill="#FDBE85" />
<polygon points="234.2,991 236.1,935.5 238,885.1 241.9,882.2 246.8,885.1 248.7,935.5 252,991 243.9,991 242.9,983.8 240.9,991" fill="#FDBE85" />
<polygon points="253.9,918.4 259.3,917.3 259.7,922.3 254.5,923.5" fill="#FDBE85" />
<polygon points="252.4,932.6 257.4,931.6 257.8,937 252.8,937.8" fill="#FDBE85" />
<polygon points="250.4,947.1 255.5,946.3 255.8,951.3 250.8,952.1" fill="#FDBE85" />
<polyline points="258.4,880.3 267.1,880.3 272.9,887.1 280.6,896.8 290.3,905.5 298,914.2 303.8,923.9 307.7,939.3 311.6,954.8 315.5,966.4 319.3,972.2 325.5,972.2" fill="none" stroke="#FDBE85" stroke-width="7.3" stroke-linejoin="round" stroke-linecap="butt" />
<polyline points="272.9,868.7 278.7,868.7 284.5,875.5 288,879.3" fill="none" stroke="#FDBE85" stroke-width="7.3" stroke-linejoin="round" stroke-linecap="butt" />
<polyline points="293.2,872 296.1,854.2" fill="none" stroke="#FDBE85" stroke-width="5.84" stroke-linejoin="round" stroke-linecap="butt" />
<polyline points="302.9,849.9 308.7,846.8 315.8,837.7" fill="none" stroke="#FDBE85" stroke-width="5.84" stroke-linejoin="round" stroke-linecap="butt" />
<polyline points="509.9,831 520,831" fill="none" stroke="#FDBE85" stroke-width="7.3" stroke-linejoin="round" stroke-linecap="butt" />
<polyline points="507,972.2 512.8,968 520,966" fill="none" stroke="#FDBE85" stroke-width="7.3" stroke-linejoin="round" stroke-linecap="butt" />
<polyline points="135.1,1092.9 139.4,1093.8 143.2,1098.7 151,1099.7" fill="none" stroke="#000" stroke-width="5.4" stroke-linejoin="round" stroke-linecap="butt" />
<polyline points="155.8,1070.6 151.9,1075.5 149,1089" fill="none" stroke="#000" stroke-width="5.4" stroke-linejoin="round" stroke-linecap="butt" />
<polyline points="163,1063.9 165.5,1071.6 168.4,1074.5 175.7,1074.5" fill="none" stroke="#000" stroke-width="5.4" stroke-linejoin="round" stroke-linecap="butt" />
<polyline points="173.2,1063.9 174.6,1036.8 176.5,1007.7 177.5,986.4 179,954.8 180.4,923.9 182.3,892.9 186.8,861.9 192,841.6" fill="none" stroke="#000" stroke-width="5.4" stroke-linejoin="round" stroke-linecap="butt" stroke-dasharray="18.5,8" />
<polyline points="202.2,838.7 208.1,844.5 211,856.1 212.9,877.4 215.8,887.1 220.6,910.3 223.5,923.9 224.9,954.8 225.5,1017.4 226.4,1056.1 227.8,1094.8 226.8,1110.3 219.7,1118 214.4,1122.9" fill="none" stroke="#000" stroke-width="5.4" stroke-linejoin="round" stroke-linecap="butt" stroke-dasharray="18.5,8" />
<polyline points="331.3,850.7 334.8,834.8 344.5,828.1 353.2,816.4 361.9,827.1 371.6,835.8 378.3,841.6 386.5,833.9 396.7,818.4 414.1,817.4 421.9,821.3 433.5,819.4 439.3,827.1 445.1,833.9 460.6,833.9 466.4,827.1 487.7,826.7 493.5,830 499.3,828.1 508,826.1" fill="none" stroke="#000" stroke-width="5.4" stroke-linejoin="round" stroke-linecap="butt" stroke-dasharray="18.5,8" />
<polyline points="509.9,826.1 509.9,1075.5 512.8,1098.7 520,1104.5" fill="none" stroke="#000" stroke-width="4.6" stroke-linejoin="round" stroke-linecap="butt" stroke-dasharray="21,7.5" />
<polygon points="139,1115.1 143.6,1115.1 143.6,1120.9 139,1120.9" fill="#000" />
<polygon points="139.4,1120.9 143.2,1120.9 142.8,1123.8 140.3,1123.5" fill="#D95F02" />
<polyline points="151,1115.1 166.4,1115.1 174.2,1117.1 181.9,1122.9 188.7,1128.7 197.4,1128.7 199.3,1114.2 201.3,1085.1 205.1,1058 209,1052.2 225.5,1051.3" fill="none" stroke="#000" stroke-width="7" stroke-linejoin="round" stroke-linecap="butt" />
<polyline points="238,1119 255.5,1121.9 294.2,1122.9 325.1,1124.8 352.2,1124.8 381.2,1122.9 400.6,1119 429.6,1117.1 468.3,1116.1 520,1117.1" fill="none" stroke="#000" stroke-width="4.4" stroke-linejoin="round" stroke-linecap="butt" stroke-dasharray="4.8,10.0" />
<polygon points="348.4,1183.3 352.2,1170.7 357.1,1170.7 360.9,1183.3" fill="#1F77B4" stroke="#000" stroke-width="2"/>
<polyline points="510.6,830 525.2,831" fill="none" stroke="#FDBE85" stroke-width="7.3" stroke-linejoin="round" stroke-linecap="butt" />
<polyline points="525.2,831 527.1,863.9 529,916.1 530,950.9" fill="none" stroke="#FDBE85" stroke-width="6.57" stroke-linejoin="round" stroke-linecap="butt" stroke-dasharray="17,8" />
<polyline points="543.5,829 539.7,838.7 537.7,877.4 536.8,923.9" fill="none" stroke="#FDBE85" stroke-width="6.57" stroke-linejoin="round" stroke-linecap="butt" stroke-dasharray="17,8" />
<polyline points="505.8,972.2 511.6,966.4 523.2,965.5 531,972.2 536.8,970.3 538.7,954.8 541.6,928.7 548.8,928.7" fill="none" stroke="#FDBE85" stroke-width="7.3" stroke-linejoin="round" stroke-linecap="butt" />
<polyline points="569.7,831.9 585.1,835.8 602.6,836.8 614.2,843.5 625.8,841.6 642.2,847.4 652.9,855.2 668.4,856.1 680,853.2 688.7,851.3 695.5,855.2 705.1,851.3 714.8,856.1 719.6,863.9" fill="none" stroke="#FDBE85" stroke-width="7.3" stroke-linejoin="round" stroke-linecap="butt" stroke-dasharray="17.5,8" />
<polyline points="565.8,956.7 577.4,953.8 581.3,947.1 585.1,935.5 590,926.8 594.8,933.5 597.7,923.9 600.6,916.1 608.4,912.2 623.9,905.5 635.5,907.4 652.9,905.5 658.7,900.6 668.4,892.9 675.1,887.1 683.8,891 693.5,896.8 712.9,897.7 717.7,883.2 732.2,886.1 738,892.9 743.8,891.9 746.7,923.9 748.7,949" fill="none" stroke="#FDBE85" stroke-width="7.3" stroke-linejoin="round" stroke-linecap="butt" />
<polyline points="832.8,835.8 840.6,838.7 845.4,847.4" fill="none" stroke="#FDBE85" stroke-width="7.3" stroke-linejoin="round" stroke-linecap="butt" />
<polyline points="841.6,905.5 838.7,935.5 836.7,955.8 828.6,955.8" fill="none" stroke="#FDBE85" stroke-width="8.3" stroke-linejoin="round" stroke-linecap="butt" />
<polyline points="550.3,830 563.9,830 567.7,833.9" fill="none" stroke="#000" stroke-width="5.4" stroke-linejoin="round" stroke-linecap="butt" />
<polyline points="733.2,1098.7 741.9,1089 751.6,1079.3 759.3,1071.6 769,1072.6" fill="none" stroke="#000" stroke-width="5.4" stroke-linejoin="round" stroke-linecap="butt" stroke-dasharray="18.5,8" />
<polyline points="768,1063.9 769,1036.8 770.9,1013.5 776.7,1002.9 788.3,1000 790.3,992.2 796.1,971 800,940 801.9,894.8 807.7,885.1 809.6,873.5 810.6,858.1" fill="none" stroke="#000" stroke-width="5.4" stroke-linejoin="round" stroke-linecap="butt" stroke-dasharray="18.5,8" />
<polyline points="811.9,844.9 817.4,838.1 827,835.8" fill="none" stroke="#000" stroke-width="5.4" stroke-linejoin="round" stroke-linecap="butt" />
<polyline points="734.2,1107.4 743.8,1107.4 749.6,1114.2 761.2,1114.2 767.1,1108.4 770.9,1090.9 774.8,1079.3 779.6,1094.8 782.5,1120 786.4,1120 790.3,1094.8 793.2,1079.3 799,1075.5 801.9,1060 813.5,1058 817.4,1053.2 829,1053.2 832.8,1067.7 837.7,1077.4 841.6,1094.8 846.4,1108.4 851.2,1114.2" fill="none" stroke="#000" stroke-width="7.6" stroke-linejoin="round" stroke-linecap="butt" />
<polyline points="500,1115.1 519.4,1117.1 548.4,1117.6 577.4,1120 606.4,1121.9 635.5,1121.9 660.6,1121.9 664.5,1120 678,1120.9 693.5,1121.9 723.5,1121.9" fill="none" stroke="#000" stroke-width="4.4" stroke-linejoin="round" stroke-linecap="butt" stroke-dasharray="4.8,10.0" />
<polyline points="861.9,1121.9 871.6,1116.1 875.4,1108.4 882.2,1100.6 887,1095.8 894.8,1100.6" fill="none" stroke="#000" stroke-width="5.4" stroke-linejoin="round" stroke-linecap="butt" stroke-dasharray="18.5,8" />
<polyline points="885.1,1116.1 893.8,1116.1" fill="none" stroke="#000" stroke-width="7" stroke-linejoin="round" stroke-linecap="butt" />
<polygon points="788.3,1184.2 792.2,1171.3 823.2,1171.3 827,1184.2" fill="#1F77B4" stroke="#000" stroke-width="2.4"/>
<circle cx="796.1" cy="1181.5" r="5" fill="#000"/>
<polygon points="491.2,682.3 533.5,682.3 533.5,691.2 526.9,691.2 524.6,700.1 520.2,700.1 518,691.2 500.1,693.4 491.2,686.7" fill="#BDBDBD" />
<polygon points="544.7,684.5 549.6,684.5 549.6,692 544.7,691.2" fill="#BDBDBD" />
<polygon points="948.4,974.2 952.8,971.6 955.5,976 951,978.7" fill="#FDBE85" />
<polyline points="927.9,1116 935.3,1114.9 940.7,1104.3 948.1,1116 954.5,1116 962,1108.6 971.5,1108.6 977.9,1112.8 999.2,1112.8 1007.7,1113.9 1009.9,1136.2 1013,1127.7 1016.2,1106.4 1033.3,1105.4" fill="none" stroke="#000" stroke-width="7.8" stroke-linejoin="round" stroke-linecap="butt" />
<polyline points="1089.7,1110.7 1095,1129.9 1100.3,1110.7" fill="none" stroke="#000" stroke-width="7.8" stroke-linejoin="round" stroke-linecap="butt" />
<polyline points="1129.1,1112.8 1144,1112.8 1149.3,1093.7 1157.8,1092.6" fill="none" stroke="#000" stroke-width="7.8" stroke-linejoin="round" stroke-linecap="butt" />
<polyline points="1195,1104.3 1203.6,1105.4 1209.9,1111.8 1218.5,1112.8" fill="none" stroke="#000" stroke-width="7.8" stroke-linejoin="round" stroke-linecap="butt" />
<polyline points="901.3,1105.4 911.9,1105.4 918.3,1110.7" fill="none" stroke="#000" stroke-width="5.4" stroke-linejoin="round" stroke-linecap="butt" stroke-dasharray="14,6" />
<polyline points="927.9,1109.6 933.2,1108.6" fill="none" stroke="#000" stroke-width="5.4" stroke-linejoin="round" stroke-linecap="butt" />
<polyline points="946,1096.9 954.5,1095.8 960.9,1088.3 967.3,1084.1 975.8,1080.9 982.2,1073.4 985.4,1063.9 988.6,1049 989.6,1037.3 996,1037.3 1000.3,1049 1003.5,1057.5 1010.9,1058.5 1013,1070.2 1013.7,1080.9 1018.4,1088.3 1027.9,1090.5" fill="none" stroke="#000" stroke-width="5.4" stroke-linejoin="round" stroke-linecap="butt" stroke-dasharray="14,6" />
<polyline points="1057.1,1085.1 1057.1,1090.5" fill="none" stroke="#000" stroke-width="5.4" stroke-linejoin="round" stroke-linecap="butt" />
<polyline points="1089.7,1104.3 1097.1,1101.8 1108.8,1101.1" fill="none" stroke="#000" stroke-width="5.4" stroke-linejoin="round" stroke-linecap="butt" />
<polyline points="1117.3,1099 1129.1,1099 1135.4,1095.8" fill="none" stroke="#000" stroke-width="5.4" stroke-linejoin="round" stroke-linecap="butt" />
<polyline points="1139.7,1087.3 1141.8,1068.1" fill="none" stroke="#000" stroke-width="5.4" stroke-linejoin="round" stroke-linecap="butt" />
<polyline points="1142.9,1058.5 1148.2,1058.5" fill="none" stroke="#000" stroke-width="5.4" stroke-linejoin="round" stroke-linecap="butt" />
<polyline points="1198.2,1097.9 1203.6,1080.9" fill="none" stroke="#000" stroke-width="5.4" stroke-linejoin="round" stroke-linecap="butt" />
<polyline points="1206.8,1071.3 1214.2,1071.3 1217.4,1083" fill="none" stroke="#000" stroke-width="5.4" stroke-linejoin="round" stroke-linecap="butt" />
<polyline points="1218.5,1093.7 1223.8,1108.6" fill="none" stroke="#000" stroke-width="5.4" stroke-linejoin="round" stroke-linecap="butt" />
<polyline points="1235.5,1108.6 1240.8,1091.5" fill="none" stroke="#000" stroke-width="5.4" stroke-linejoin="round" stroke-linecap="butt" />
<polyline points="1247.2,1082 1257.8,1089.4 1265.3,1091.5" fill="none" stroke="#000" stroke-width="5.4" stroke-linejoin="round" stroke-linecap="butt" />
<polyline points="1161,1105.4 1161,1111.1" fill="none" stroke="#000" stroke-width="5.4" stroke-linejoin="round" stroke-linecap="butt" />
<polyline points="1036.5,1110.1 1092.9,1110.7 1161,1110.7 1308.9,1111.3" fill="none" stroke="#000" stroke-width="4.800000000000001" stroke-linejoin="round" stroke-linecap="butt" stroke-dasharray="4.8,10.2" />
</g>
<line x1="121.8" x2="1310.6" y1="1184.1000000000001" y2="1184.1000000000001" stroke="#000" stroke-width="2.6"/>
<rect x="121.8" y="675.9000000000001" width="1188.8" height="510.0" fill="none" stroke="#000" stroke-width="2.5"/>
<line x1="106.2" x2="121.8" y1="1185.9" y2="1185.9" stroke="#000" stroke-width="7.6"/>
<text x="96.8" y="1203.5" text-anchor="end" font-size="48.9" font-family="DejaVu Sans, Liberation Sans, sans-serif">0</text>
<line x1="113.2" x2="121.8" y1="1160.4" y2="1160.4" stroke="#000" stroke-width="5.4"/>
<line x1="113.2" x2="121.8" y1="1134.9" y2="1134.9" stroke="#000" stroke-width="5.4"/>
<line x1="113.2" x2="121.8" y1="1109.4" y2="1109.4" stroke="#000" stroke-width="5.4"/>
<line x1="106.2" x2="121.8" y1="1083.9" y2="1083.9" stroke="#000" stroke-width="7.6"/>
<text x="96.8" y="1101.5" text-anchor="end" font-size="48.9" font-family="DejaVu Sans, Liberation Sans, sans-serif">1</text>
<line x1="113.2" x2="121.8" y1="1058.4" y2="1058.4" stroke="#000" stroke-width="5.4"/>
<line x1="113.2" x2="121.8" y1="1032.9" y2="1032.9" stroke="#000" stroke-width="5.4"/>
<line x1="113.2" x2="121.8" y1="1007.4000000000001" y2="1007.4000000000001" stroke="#000" stroke-width="5.4"/>
<line x1="106.2" x2="121.8" y1="981.9000000000001" y2="981.9000000000001" stroke="#000" stroke-width="7.6"/>
<text x="96.8" y="999.5000000000001" text-anchor="end" font-size="48.9" font-family="DejaVu Sans, Liberation Sans, sans-serif">2</text>
<line x1="113.2" x2="121.8" y1="956.4000000000001" y2="956.4000000000001" stroke="#000" stroke-width="5.4"/>
<line x1="113.2" x2="121.8" y1="930.9000000000001" y2="930.9000000000001" stroke="#000" stroke-width="5.4"/>
<line x1="113.2" x2="121.8" y1="905.4000000000001" y2="905.4000000000001" stroke="#000" stroke-width="5.4"/>
<line x1="106.2" x2="121.8" y1="879.9000000000001" y2="879.9000000000001" stroke="#000" stroke-width="7.6"/>
<text x="96.8" y="897.5000000000001" text-anchor="end" font-size="48.9" font-family="DejaVu Sans, Liberation Sans, sans-serif">3</text>
<line x1="113.2" x2="121.8" y1="854.4000000000001" y2="854.4000000000001" stroke="#000" stroke-width="5.4"/>
<line x1="113.2" x2="121.8" y1="828.9000000000001" y2="828.9000000000001" stroke="#000" stroke-width="5.4"/>
<line x1="113.2" x2="121.8" y1="803.4000000000001" y2="803.4000000000001" stroke="#000" stroke-width="5.4"/>
<line x1="106.2" x2="121.8" y1="777.9000000000001" y2="777.9000000000001" stroke="#000" stroke-width="7.6"/>
<text x="96.8" y="795.5000000000001" text-anchor="end" font-size="48.9" font-family="DejaVu Sans, Liberation Sans, sans-serif">4</text>
<line x1="113.2" x2="121.8" y1="752.4000000000001" y2="752.4000000000001" stroke="#000" stroke-width="5.4"/>
<line x1="113.2" x2="121.8" y1="726.9000000000001" y2="726.9000000000001" stroke="#000" stroke-width="5.4"/>
<line x1="113.2" x2="121.8" y1="701.4000000000001" y2="701.4000000000001" stroke="#000" stroke-width="5.4"/>
<line x1="106.2" x2="121.8" y1="675.9000000000001" y2="675.9000000000001" stroke="#000" stroke-width="7.6"/>
<text x="96.8" y="693.5000000000001" text-anchor="end" font-size="48.9" font-family="DejaVu Sans, Liberation Sans, sans-serif">5</text>
<line x1="121.8" x2="121.8" y1="1185.9" y2="1201.5" stroke="#000" stroke-width="7.6"/>
<text x="121.8" y="1247.4" text-anchor="middle" font-size="48.9" font-family="DejaVu Sans, Liberation Sans, sans-serif">06:00</text>
<line x1="171.33333333333331" x2="171.33333333333331" y1="1185.9" y2="1194.5" stroke="#000" stroke-width="5.4"/>
<line x1="220.86666666666667" x2="220.86666666666667" y1="1185.9" y2="1194.5" stroke="#000" stroke-width="5.4"/>
<line x1="270.4" x2="270.4" y1="1185.9" y2="1194.5" stroke="#000" stroke-width="5.4"/>
<line x1="319.93333333333334" x2="319.93333333333334" y1="1185.9" y2="1194.5" stroke="#000" stroke-width="5.4"/>
<line x1="369.46666666666664" x2="369.46666666666664" y1="1185.9" y2="1194.5" stroke="#000" stroke-width="5.4"/>
<line x1="419.0" x2="419.0" y1="1185.9" y2="1201.5" stroke="#000" stroke-width="7.6"/>
<text x="419.0" y="1247.4" text-anchor="middle" font-size="48.9" font-family="DejaVu Sans, Liberation Sans, sans-serif">06:30</text>
<line x1="468.53333333333336" x2="468.53333333333336" y1="1185.9" y2="1194.5" stroke="#000" stroke-width="5.4"/>
<line x1="518.0666666666666" x2="518.0666666666666" y1="1185.9" y2="1194.5" stroke="#000" stroke-width="5.4"/>
<line x1="567.6" x2="567.6" y1="1185.9" y2="1194.5" stroke="#000" stroke-width="5.4"/>
<line x1="617.1333333333333" x2="617.1333333333333" y1="1185.9" y2="1194.5" stroke="#000" stroke-width="5.4"/>
<line x1="666.6666666666666" x2="666.6666666666666" y1="1185.9" y2="1194.5" stroke="#000" stroke-width="5.4"/>
<line x1="716.1999999999999" x2="716.1999999999999" y1="1185.9" y2="1201.5" stroke="#000" stroke-width="7.6"/>
<text x="716.1999999999999" y="1247.4" text-anchor="middle" font-size="48.9" font-family="DejaVu Sans, Liberation Sans, sans-serif">07:00</text>
<line x1="765.7333333333332" x2="765.7333333333332" y1="1185.9" y2="1194.5" stroke="#000" stroke-width="5.4"/>
<line x1="815.2666666666667" x2="815.2666666666667" y1="1185.9" y2="1194.5" stroke="#000" stroke-width="5.4"/>
<line x1="864.8" x2="864.8" y1="1185.9" y2="1194.5" stroke="#000" stroke-width="5.4"/>
<line x1="914.3333333333333" x2="914.3333333333333" y1="1185.9" y2="1194.5" stroke="#000" stroke-width="5.4"/>
<line x1="963.8666666666667" x2="963.8666666666667" y1="1185.9" y2="1194.5" stroke="#000" stroke-width="5.4"/>
<line x1="1013.4" x2="1013.4" y1="1185.9" y2="1201.5" stroke="#000" stroke-width="7.6"/>
<text x="1013.4" y="1247.4" text-anchor="middle" font-size="48.9" font-family="DejaVu Sans, Liberation Sans, sans-serif">07:30</text>
<line x1="1062.9333333333334" x2="1062.9333333333334" y1="1185.9" y2="1194.5" stroke="#000" stroke-width="5.4"/>
<line x1="1112.4666666666667" x2="1112.4666666666667" y1="1185.9" y2="1194.5" stroke="#000" stroke-width="5.4"/>
<line x1="1162.0" x2="1162.0" y1="1185.9" y2="1194.5" stroke="#000" stroke-width="5.4"/>
<line x1="1211.5333333333333" x2="1211.5333333333333" y1="1185.9" y2="1194.5" stroke="#000" stroke-width="5.4"/>
<line x1="1261.0666666666666" x2="1261.0666666666666" y1="1185.9" y2="1194.5" stroke="#000" stroke-width="5.4"/>
<line x1="1310.6" x2="1310.6" y1="1185.9" y2="1201.5" stroke="#000" stroke-width="7.6"/>
<text x="1310.6" y="1247.4" text-anchor="middle" font-size="48.9" font-family="DejaVu Sans, Liberation Sans, sans-serif">08:00</text>
<text transform="translate(43.8,930.9000000000001) rotate(-90)" text-anchor="middle" font-size="48.9" font-family="DejaVu Sans, Liberation Sans, sans-serif">Height (km)</text>
<text x="716.1999999999999" y="1306.8" text-anchor="middle" font-size="48.9" font-family="DejaVu Sans, Liberation Sans, sans-serif">Time (UTC)</text>
<text x="1286.5" y="720.5000000000001" text-anchor="end" font-size="43.2" font-weight="bold" font-family="DejaVu Sans, Liberation Sans, sans-serif">(b)</text>
<rect x="134.6" y="614.6" width="448.5" height="63.8" fill="#fff" fill-opacity="0.8" stroke="#404040" stroke-width="2.5"/>
<text x="144" y="660.3" font-size="43.45" font-family="DejaVu Sans, Liberation Sans, sans-serif">Virga-Sniffer output</text>
<rect x="1345.8" y="675.9000000000001" width="25.5" height="255.4999999999999" fill="#FDBE85"/>
<rect x="1345.8" y="931.4" width="25.5" height="256.0000000000001" fill="#000"/>
<rect x="1345.8" y="675.9000000000001" width="25.5" height="511.5" fill="none" stroke="#000" stroke-width="2.2"/>
<line x1="1371.3" x2="1380.3" y1="797.8" y2="797.8" stroke="#000" stroke-width="3.4"/>
<text x="1389.6" y="810.5999999999999" font-size="35" font-family="DejaVu Sans, Liberation Sans, sans-serif">1</text>
<line x1="1371.3" x2="1380.3" y1="1048.9" y2="1048.9" stroke="#000" stroke-width="3.4"/>
<text x="1389.6" y="1061.7" font-size="35" font-family="DejaVu Sans, Liberation Sans, sans-serif">0</text>
<text transform="translate(1458.8,931) rotate(-90)" text-anchor="middle" font-size="43.45" font-family="DejaVu Sans, Liberation Sans, sans-serif">cloud base/top layer number</text>
<rect x="1488.3" y="608.3" width="576.7" height="577" rx="7" ry="7" fill="#fff" stroke="#ccc" stroke-width="2.5"/>
<line x1="1506.8" x2="1608" y1="647.8" y2="647.8" stroke="#000" stroke-width="7"/>
<line x1="1506.8" x2="1608" y1="720.2" y2="720.2" stroke="#000" stroke-width="5.4" stroke-dasharray="20,8.6" stroke-dashoffset="-2"/>
<line x1="1506.8" x2="1608" y1="792.5" y2="792.5" stroke="#000" stroke-width="4.2" stroke-dasharray="4.8,10.55" stroke-dashoffset="-1"/>
<rect x="1506.8" y="847.7" width="101.20000000000005" height="36.8" fill="#BDBDBD"/>
<rect x="1506.8" y="953.5" width="101.20000000000005" height="35.6" fill="#ABABAB"/>
<rect x="1506.8" y="953.5" width="101.20000000000005" height="35.6" fill="url(#hatch)" stroke="#000" stroke-width="2.2"/>
<rect x="1506.8" y="1047.5" width="101.20000000000005" height="36.8" fill="#D95F02"/>
<rect x="1506.8" y="1119.4" width="101.20000000000005" height="36.8" fill="#7570B3"/>
<text x="1646.5" y="665.9" font-size="48.9" xml:space="preserve" font-family="DejaVu Sans, Liberation Sans, sans-serif">cloud base</text>
<text x="1646.5" y="738.2" font-size="48.9" xml:space="preserve" font-family="DejaVu Sans, Liberation Sans, sans-serif">cloud top</text>
<text x="1646.5" y="809.9" font-size="48.9" xml:space="preserve" font-family="DejaVu Sans, Liberation Sans, sans-serif">filled cloud base</text>
<text x="1646.5" y="882.7" font-size="48.9" xml:space="preserve" font-family="DejaVu Sans, Liberation Sans, sans-serif">unclassified</text>
<text x="1646.5" y="955.6" font-size="48.9" xml:space="preserve" font-family="DejaVu Sans, Liberation Sans, sans-serif">unclassified</text>
<text x="1646.5" y="1009.8" font-size="48.9" xml:space="preserve" font-family="DejaVu Sans, Liberation Sans, sans-serif"> &lt; -50 dBZ</text>
<text x="1646.5" y="1082.5" font-size="48.9" xml:space="preserve" font-family="DejaVu Sans, Liberation Sans, sans-serif">virga mask</text>
<text x="1646.5" y="1154.8" font-size="48.9" xml:space="preserve" font-family="DejaVu Sans, Liberation Sans, sans-serif">cloud mask</text>
</svg>
</body></html>
